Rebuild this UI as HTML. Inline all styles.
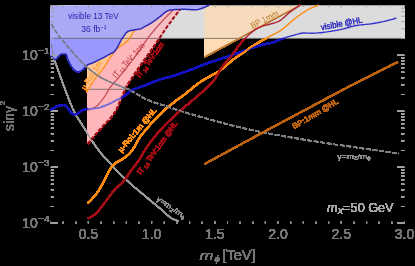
<!DOCTYPE html>
<html><head><meta charset="utf-8"><title>plot</title>
<style>html,body{margin:0;padding:0;background:#000;}body{width:415px;height:266px;position:relative;overflow:hidden;font-family:"Liberation Sans",sans-serif;}</style>
</head><body>
<svg width="415" height="266" viewBox="0 0 415 266" style="position:absolute;left:0;top:0">
<defs>
<clipPath id="cBand"><rect x="50.9" y="5.9" width="353.3" height="32.5"/></clipPath>
<clipPath id="cBelow"><rect x="0" y="38.4" width="415" height="227.6"/></clipPath>
<clipPath id="cPlot"><rect x="50.9" y="5.9" width="353.3" height="217.6"/></clipPath>
<clipPath id="cPink"><path d="M87.5 64.9 L88.9 64.3 L90.3 63.7 L91.8 63.2 L93.2 62.7 L94.6 62.0 L95.9 61.4 L97.3 60.7 L98.6 60.0 L100.0 59.3 L101.3 58.6 L102.7 58.0 L104.0 57.3 L105.3 56.6 L106.7 55.9 L108.0 55.1 L109.4 54.4 L110.7 53.7 L112.1 53.0 L113.4 52.3 L114.5 51.4 L115.5 50.2 L116.4 48.9 L117.2 47.7 L117.9 46.3 L118.6 45.0 L119.3 43.7 L120.0 42.3 L120.7 41.0 L121.4 39.6 L122.2 38.3 L123.1 37.1 L123.9 35.9 L124.8 34.6 L125.7 33.4 L126.7 32.3 L127.9 31.3 L129.3 30.9 L130.8 30.6 L132.3 30.3 L133.8 30.1 L135.3 29.8 L136.8 29.6 L138.3 29.3 L139.8 29.1 L141.2 28.6 L142.6 27.9 L143.9 27.1 L145.2 26.4 L146.6 25.7 L147.9 25.0 L149.2 24.2 L150.5 23.5 L151.8 22.7 L153.1 21.8 L154.3 20.9 L155.5 20.1 L156.7 19.2 L157.9 18.2 L159.1 17.3 L160.3 16.4 L161.5 15.4 L162.6 14.4 L163.8 13.4 L165.0 12.5 L166.3 11.7 L167.6 10.9 L169.0 10.3 L170.4 10.0 L171.9 9.9 L173.4 9.7 L175.0 9.6 L176.5 9.6 L178.0 9.5 L179.5 9.4 L180.0 9.5 L179.1 10.7 L178.1 11.9 L177.2 13.1 L176.3 14.3 L175.4 15.5 L174.5 16.7 L173.6 17.9 L172.6 19.2 L171.7 20.4 L170.9 21.6 L170.0 22.8 L169.1 24.1 L168.2 25.3 L167.3 26.5 L166.4 27.8 L165.6 29.0 L164.7 30.3 L163.9 31.6 L163.1 32.8 L162.2 34.1 L161.4 35.3 L160.5 36.6 L159.6 37.8 L158.8 39.1 L157.9 40.3 L157.0 41.6 L156.2 42.8 L155.3 44.1 L154.4 45.3 L153.6 46.6 L152.7 47.8 L151.8 49.0 L150.9 50.3 L150.1 51.5 L149.2 52.8 L148.3 54.0 L147.4 55.2 L146.6 56.5 L145.7 57.7 L144.8 59.0 L143.9 60.2 L143.1 61.4 L142.2 62.7 L141.3 63.9 L140.4 65.2 L139.6 66.4 L138.7 67.7 L137.8 68.9 L137.0 70.2 L136.1 71.4 L135.3 72.7 L134.4 73.9 L133.6 75.2 L132.8 76.5 L131.9 77.7 L131.1 79.0 L130.2 80.2 L129.4 81.5 L128.5 82.8 L127.7 84.1 L127.0 85.4 L126.2 86.7 L125.6 88.1 L125.0 89.4 L124.4 90.9 L123.8 92.2 L123.2 93.6 L122.6 95.0 L122.0 96.4 L121.4 97.8 L120.8 99.2 L120.2 100.6 L119.6 102.0 L119.0 103.4 L118.4 104.8 L117.8 106.2 L117.2 107.6 L116.6 109.0 L115.9 110.3 L115.1 111.6 L114.2 112.9 L113.4 114.1 L112.5 115.4 L111.6 116.6 L110.6 117.7 L109.6 118.9 L108.6 120.0 L107.6 121.1 L106.5 122.2 L105.5 123.3 L104.4 124.4 L103.4 125.5 L102.3 126.6 L101.3 127.8 L100.3 128.9 L99.3 130.0 L98.3 131.2 L97.3 132.3 L96.3 133.5 L95.3 134.6 L94.3 135.8 L93.4 136.9 L92.4 138.1 L91.4 139.3 L90.5 140.5 L89.5 141.6 L88.5 142.8 L87.6 144.0Z"/></clipPath>
<clipPath id="cOut"><path clip-rule="evenodd" d="M0 38.4H415V266H0Z M87.5 64.9 L88.9 64.3 L90.3 63.7 L91.8 63.2 L93.2 62.7 L94.6 62.0 L95.9 61.4 L97.3 60.7 L98.6 60.0 L100.0 59.3 L101.3 58.6 L102.7 58.0 L104.0 57.3 L105.3 56.6 L106.7 55.9 L108.0 55.1 L109.4 54.4 L110.7 53.7 L112.1 53.0 L113.4 52.3 L114.5 51.4 L115.5 50.2 L116.4 48.9 L117.2 47.7 L117.9 46.3 L118.6 45.0 L119.3 43.7 L120.0 42.3 L120.7 41.0 L121.4 39.6 L122.2 38.3 L123.1 37.1 L123.9 35.9 L124.8 34.6 L125.7 33.4 L126.7 32.3 L127.9 31.3 L129.3 30.9 L130.8 30.6 L132.3 30.3 L133.8 30.1 L135.3 29.8 L136.8 29.6 L138.3 29.3 L139.8 29.1 L141.2 28.6 L142.6 27.9 L143.9 27.1 L145.2 26.4 L146.6 25.7 L147.9 25.0 L149.2 24.2 L150.5 23.5 L151.8 22.7 L153.1 21.8 L154.3 20.9 L155.5 20.1 L156.7 19.2 L157.9 18.2 L159.1 17.3 L160.3 16.4 L161.5 15.4 L162.6 14.4 L163.8 13.4 L165.0 12.5 L166.3 11.7 L167.6 10.9 L169.0 10.3 L170.4 10.0 L171.9 9.9 L173.4 9.7 L175.0 9.6 L176.5 9.6 L178.0 9.5 L179.5 9.4 L180.0 9.5 L179.1 10.7 L178.1 11.9 L177.2 13.1 L176.3 14.3 L175.4 15.5 L174.5 16.7 L173.6 17.9 L172.6 19.2 L171.7 20.4 L170.9 21.6 L170.0 22.8 L169.1 24.1 L168.2 25.3 L167.3 26.5 L166.4 27.8 L165.6 29.0 L164.7 30.3 L163.9 31.6 L163.1 32.8 L162.2 34.1 L161.4 35.3 L160.5 36.6 L159.6 37.8 L158.8 39.1 L157.9 40.3 L157.0 41.6 L156.2 42.8 L155.3 44.1 L154.4 45.3 L153.6 46.6 L152.7 47.8 L151.8 49.0 L150.9 50.3 L150.1 51.5 L149.2 52.8 L148.3 54.0 L147.4 55.2 L146.6 56.5 L145.7 57.7 L144.8 59.0 L143.9 60.2 L143.1 61.4 L142.2 62.7 L141.3 63.9 L140.4 65.2 L139.6 66.4 L138.7 67.7 L137.8 68.9 L137.0 70.2 L136.1 71.4 L135.3 72.7 L134.4 73.9 L133.6 75.2 L132.8 76.5 L131.9 77.7 L131.1 79.0 L130.2 80.2 L129.4 81.5 L128.5 82.8 L127.7 84.1 L127.0 85.4 L126.2 86.7 L125.6 88.1 L125.0 89.4 L124.4 90.9 L123.8 92.2 L123.2 93.6 L122.6 95.0 L122.0 96.4 L121.4 97.8 L120.8 99.2 L120.2 100.6 L119.6 102.0 L119.0 103.4 L118.4 104.8 L117.8 106.2 L117.2 107.6 L116.6 109.0 L115.9 110.3 L115.1 111.6 L114.2 112.9 L113.4 114.1 L112.5 115.4 L111.6 116.6 L110.6 117.7 L109.6 118.9 L108.6 120.0 L107.6 121.1 L106.5 122.2 L105.5 123.3 L104.4 124.4 L103.4 125.5 L102.3 126.6 L101.3 127.8 L100.3 128.9 L99.3 130.0 L98.3 131.2 L97.3 132.3 L96.3 133.5 L95.3 134.6 L94.3 135.8 L93.4 136.9 L92.4 138.1 L91.4 139.3 L90.5 140.5 L89.5 141.6 L88.5 142.8 L87.6 144.0Z"/></clipPath>
<clipPath id="cFills"><path d="M50.9 5.9 L50.5 55.6 L51.7 56.5 L52.9 57.5 L54.0 58.7 L55.1 59.6 L56.2 59.0 L57.2 57.7 L58.3 56.5 L59.5 55.3 L60.7 54.3 L62.1 54.0 L63.7 54.0 L65.3 54.0 L66.2 54.2 L66.8 55.5 L67.3 57.2 L67.8 59.0 L68.4 60.4 L69.1 61.8 L69.7 63.2 L70.4 64.5 L71.2 65.8 L72.0 67.1 L72.9 68.3 L73.9 69.5 L75.1 70.5 L76.4 71.2 L77.9 71.7 L79.3 71.5 L80.7 70.9 L82.1 70.1 L83.3 69.2 L84.3 68.1 L85.3 66.9 L86.4 65.8 L87.5 64.9 L88.9 64.3 L90.3 63.7 L91.8 63.2 L93.2 62.7 L94.6 62.0 L95.9 61.4 L97.3 60.7 L98.6 60.0 L100.0 59.3 L101.3 58.6 L102.7 58.0 L104.0 57.3 L105.3 56.6 L106.7 55.9 L108.0 55.1 L109.4 54.4 L110.7 53.7 L112.1 53.0 L113.4 52.3 L114.5 51.4 L115.5 50.2 L116.4 48.9 L117.2 47.7 L117.9 46.3 L118.6 45.0 L119.3 43.7 L120.0 42.3 L120.7 41.0 L121.4 39.6 L122.2 38.3 L123.1 37.1 L123.9 35.9 L124.8 34.6 L125.7 33.4 L126.7 32.3 L127.9 31.3 L129.3 30.9 L130.8 30.6 L132.3 30.3 L133.8 30.1 L135.3 29.8 L136.8 29.6 L138.3 29.3 L139.8 29.1 L141.2 28.6 L142.6 27.9 L143.9 27.1 L145.2 26.4 L146.6 25.7 L147.9 25.0 L149.2 24.2 L150.5 23.5 L151.8 22.7 L153.1 21.8 L154.3 20.9 L155.5 20.1 L156.7 19.2 L157.9 18.2 L159.1 17.3 L160.3 16.4 L161.5 15.4 L162.6 14.4 L163.8 13.4 L165.0 12.5 L166.3 11.7 L167.6 10.9 L169.0 10.3 L170.4 10.0 L171.9 9.9 L173.4 9.7 L175.0 9.6 L176.5 9.6 L178.0 9.5 L179.5 9.4 L181.0 9.4 L182.5 9.3 L184.0 9.3 L185.6 9.3 L187.1 9.4 L188.6 9.5 L190.1 9.6 L191.6 9.7 L193.1 9.8 L194.6 9.8 L196.1 9.7 L197.6 9.5 L199.1 9.2 L200.6 8.8 L202.0 8.3 L203.4 7.7 L204.8 7.2 L206.2 6.6 L207.6 6.0 L209.0 5.4Z M87.5 64.9 L88.9 64.3 L90.3 63.7 L91.8 63.2 L93.2 62.7 L94.6 62.0 L95.9 61.4 L97.3 60.7 L98.6 60.0 L100.0 59.3 L101.3 58.6 L102.7 58.0 L104.0 57.3 L105.3 56.6 L106.7 55.9 L108.0 55.1 L109.4 54.4 L110.7 53.7 L112.1 53.0 L113.4 52.3 L114.5 51.4 L115.5 50.2 L116.4 48.9 L117.2 47.7 L117.9 46.3 L118.6 45.0 L119.3 43.7 L120.0 42.3 L120.7 41.0 L121.4 39.6 L122.2 38.3 L123.1 37.1 L123.9 35.9 L124.8 34.6 L125.7 33.4 L126.7 32.3 L127.9 31.3 L129.3 30.9 L130.8 30.6 L132.3 30.3 L133.8 30.1 L135.3 29.8 L136.8 29.6 L138.3 29.3 L139.8 29.1 L141.2 28.6 L142.6 27.9 L143.9 27.1 L145.2 26.4 L146.6 25.7 L147.9 25.0 L149.2 24.2 L150.5 23.5 L151.8 22.7 L153.1 21.8 L154.3 20.9 L155.5 20.1 L156.7 19.2 L157.9 18.2 L159.1 17.3 L160.3 16.4 L161.5 15.4 L162.6 14.4 L163.8 13.4 L165.0 12.5 L166.3 11.7 L167.6 10.9 L169.0 10.3 L170.4 10.0 L171.9 9.9 L173.4 9.7 L175.0 9.6 L176.5 9.6 L178.0 9.5 L179.5 9.4 L180.0 9.5 L179.1 10.7 L178.1 11.9 L177.2 13.1 L176.3 14.3 L175.4 15.5 L174.5 16.7 L173.6 17.9 L172.6 19.2 L171.7 20.4 L170.9 21.6 L170.0 22.8 L169.1 24.1 L168.2 25.3 L167.3 26.5 L166.4 27.8 L165.6 29.0 L164.7 30.3 L163.9 31.6 L163.1 32.8 L162.2 34.1 L161.4 35.3 L160.5 36.6 L159.6 37.8 L158.8 39.1 L157.9 40.3 L157.0 41.6 L156.2 42.8 L155.3 44.1 L154.4 45.3 L153.6 46.6 L152.7 47.8 L151.8 49.0 L150.9 50.3 L150.1 51.5 L149.2 52.8 L148.3 54.0 L147.4 55.2 L146.6 56.5 L145.7 57.7 L144.8 59.0 L143.9 60.2 L143.1 61.4 L142.2 62.7 L141.3 63.9 L140.4 65.2 L139.6 66.4 L138.7 67.7 L137.8 68.9 L137.0 70.2 L136.1 71.4 L135.3 72.7 L134.4 73.9 L133.6 75.2 L132.8 76.5 L131.9 77.7 L131.1 79.0 L130.2 80.2 L129.4 81.5 L128.5 82.8 L127.7 84.1 L127.0 85.4 L126.2 86.7 L125.6 88.1 L125.0 89.4 L124.4 90.9 L123.8 92.2 L123.2 93.6 L122.6 95.0 L122.0 96.4 L121.4 97.8 L120.8 99.2 L120.2 100.6 L119.6 102.0 L119.0 103.4 L118.4 104.8 L117.8 106.2 L117.2 107.6 L116.6 109.0 L115.9 110.3 L115.1 111.6 L114.2 112.9 L113.4 114.1 L112.5 115.4 L111.6 116.6 L110.6 117.7 L109.6 118.9 L108.6 120.0 L107.6 121.1 L106.5 122.2 L105.5 123.3 L104.4 124.4 L103.4 125.5 L102.3 126.6 L101.3 127.8 L100.3 128.9 L99.3 130.0 L98.3 131.2 L97.3 132.3 L96.3 133.5 L95.3 134.6 L94.3 135.8 L93.4 136.9 L92.4 138.1 L91.4 139.3 L90.5 140.5 L89.5 141.6 L88.5 142.8 L87.6 144.0Z"/></clipPath>
<filter id="hard" x="0" y="0" width="415" height="266" filterUnits="userSpaceOnUse" color-interpolation-filters="sRGB"><feComponentTransfer><feFuncA type="linear" slope="7" intercept="0"/></feComponentTransfer></filter>
</defs>
<rect width="415" height="266" fill="#000"/>
<g filter="url(#hard)">
<rect x="50.9" y="5.9" width="353.3" height="32.5" fill="#dcdcdc"/>
<path d="M50.9 5.9 L50.5 55.6 L51.7 56.5 L52.9 57.5 L54.0 58.7 L55.1 59.6 L56.2 59.0 L57.2 57.7 L58.3 56.5 L59.5 55.3 L60.7 54.3 L62.1 54.0 L63.7 54.0 L65.3 54.0 L66.2 54.2 L66.8 55.5 L67.3 57.2 L67.8 59.0 L68.4 60.4 L69.1 61.8 L69.7 63.2 L70.4 64.5 L71.2 65.8 L72.0 67.1 L72.9 68.3 L73.9 69.5 L75.1 70.5 L76.4 71.2 L77.9 71.7 L79.3 71.5 L80.7 70.9 L82.1 70.1 L83.3 69.2 L84.3 68.1 L85.3 66.9 L86.4 65.8 L87.5 64.9 L88.9 64.3 L90.3 63.7 L91.8 63.2 L93.2 62.7 L94.6 62.0 L95.9 61.4 L97.3 60.7 L98.6 60.0 L100.0 59.3 L101.3 58.6 L102.7 58.0 L104.0 57.3 L105.3 56.6 L106.7 55.9 L108.0 55.1 L109.4 54.4 L110.7 53.7 L112.1 53.0 L113.4 52.3 L114.5 51.4 L115.5 50.2 L116.4 48.9 L117.2 47.7 L117.9 46.3 L118.6 45.0 L119.3 43.7 L120.0 42.3 L120.7 41.0 L121.4 39.6 L122.2 38.3 L123.1 37.1 L123.9 35.9 L124.8 34.6 L125.7 33.4 L126.7 32.3 L127.9 31.3 L129.3 30.9 L130.8 30.6 L132.3 30.3 L133.8 30.1 L135.3 29.8 L136.8 29.6 L138.3 29.3 L139.8 29.1 L141.2 28.6 L142.6 27.9 L143.9 27.1 L145.2 26.4 L146.6 25.7 L147.9 25.0 L149.2 24.2 L150.5 23.5 L151.8 22.7 L153.1 21.8 L154.3 20.9 L155.5 20.1 L156.7 19.2 L157.9 18.2 L159.1 17.3 L160.3 16.4 L161.5 15.4 L162.6 14.4 L163.8 13.4 L165.0 12.5 L166.3 11.7 L167.6 10.9 L169.0 10.3 L170.4 10.0 L171.9 9.9 L173.4 9.7 L175.0 9.6 L176.5 9.6 L178.0 9.5 L179.5 9.4 L181.0 9.4 L182.5 9.3 L184.0 9.3 L185.6 9.3 L187.1 9.4 L188.6 9.5 L190.1 9.6 L191.6 9.7 L193.1 9.8 L194.6 9.8 L196.1 9.7 L197.6 9.5 L199.1 9.2 L200.6 8.8 L202.0 8.3 L203.4 7.7 L204.8 7.2 L206.2 6.6 L207.6 6.0 L209.0 5.4Z" fill="#9898ff"/>
<path d="M87.5 64.9 L88.9 64.3 L90.3 63.7 L91.8 63.2 L93.2 62.7 L94.6 62.0 L95.9 61.4 L97.3 60.7 L98.6 60.0 L100.0 59.3 L101.3 58.6 L102.7 58.0 L104.0 57.3 L105.3 56.6 L106.7 55.9 L108.0 55.1 L109.4 54.4 L110.7 53.7 L112.1 53.0 L113.4 52.3 L114.5 51.4 L115.5 50.2 L116.4 48.9 L117.2 47.7 L117.9 46.3 L118.6 45.0 L119.3 43.7 L120.0 42.3 L120.7 41.0 L121.4 39.6 L122.2 38.3 L123.1 37.1 L123.9 35.9 L124.8 34.6 L125.7 33.4 L126.7 32.3 L127.9 31.3 L129.3 30.9 L130.8 30.6 L132.3 30.3 L133.8 30.1 L135.3 29.8 L136.8 29.6 L138.3 29.3 L139.8 29.1 L141.2 28.6 L142.6 27.9 L143.9 27.1 L145.2 26.4 L146.6 25.7 L147.9 25.0 L149.2 24.2 L150.5 23.5 L151.8 22.7 L153.1 21.8 L154.3 20.9 L155.5 20.1 L156.7 19.2 L157.9 18.2 L159.1 17.3 L160.3 16.4 L161.5 15.4 L162.6 14.4 L163.8 13.4 L165.0 12.5 L166.3 11.7 L167.6 10.9 L169.0 10.3 L170.4 10.0 L171.9 9.9 L173.4 9.7 L175.0 9.6 L176.5 9.6 L178.0 9.5 L179.5 9.4 L180.0 9.5 L179.1 10.7 L178.1 11.9 L177.2 13.1 L176.3 14.3 L175.4 15.5 L174.5 16.7 L173.6 17.9 L172.6 19.2 L171.7 20.4 L170.9 21.6 L170.0 22.8 L169.1 24.1 L168.2 25.3 L167.3 26.5 L166.4 27.8 L165.6 29.0 L164.7 30.3 L163.9 31.6 L163.1 32.8 L162.2 34.1 L161.4 35.3 L160.5 36.6 L159.6 37.8 L158.8 39.1 L157.9 40.3 L157.0 41.6 L156.2 42.8 L155.3 44.1 L154.4 45.3 L153.6 46.6 L152.7 47.8 L151.8 49.0 L150.9 50.3 L150.1 51.5 L149.2 52.8 L148.3 54.0 L147.4 55.2 L146.6 56.5 L145.7 57.7 L144.8 59.0 L143.9 60.2 L143.1 61.4 L142.2 62.7 L141.3 63.9 L140.4 65.2 L139.6 66.4 L138.7 67.7 L137.8 68.9 L137.0 70.2 L136.1 71.4 L135.3 72.7 L134.4 73.9 L133.6 75.2 L132.8 76.5 L131.9 77.7 L131.1 79.0 L130.2 80.2 L129.4 81.5 L128.5 82.8 L127.7 84.1 L127.0 85.4 L126.2 86.7 L125.6 88.1 L125.0 89.4 L124.4 90.9 L123.8 92.2 L123.2 93.6 L122.6 95.0 L122.0 96.4 L121.4 97.8 L120.8 99.2 L120.2 100.6 L119.6 102.0 L119.0 103.4 L118.4 104.8 L117.8 106.2 L117.2 107.6 L116.6 109.0 L115.9 110.3 L115.1 111.6 L114.2 112.9 L113.4 114.1 L112.5 115.4 L111.6 116.6 L110.6 117.7 L109.6 118.9 L108.6 120.0 L107.6 121.1 L106.5 122.2 L105.5 123.3 L104.4 124.4 L103.4 125.5 L102.3 126.6 L101.3 127.8 L100.3 128.9 L99.3 130.0 L98.3 131.2 L97.3 132.3 L96.3 133.5 L95.3 134.6 L94.3 135.8 L93.4 136.9 L92.4 138.1 L91.4 139.3 L90.5 140.5 L89.5 141.6 L88.5 142.8 L87.6 144.0Z" fill="#ffb6ba"/>
<path d="M87.5 64.9 L88.9 64.3 L90.3 63.7 L91.8 63.2 L93.2 62.7 L94.6 62.0 L95.9 61.4 L97.3 60.7 L98.6 60.0 L100.0 59.3 L101.3 58.6 L102.7 58.0 L104.0 57.3 L105.3 56.6 L106.7 55.9 L108.0 55.1 L109.4 54.4 L110.7 53.7 L112.1 53.0 L113.4 52.3 L114.5 51.4 L115.5 50.2 L116.4 48.9 L117.2 47.7 L117.9 46.3 L118.6 45.0 L119.3 43.7 L120.0 42.3 L120.7 41.0 L121.4 39.6 L122.2 38.3 L123.1 37.1 L123.9 35.9 L124.8 34.6 L125.7 33.4 L126.7 32.3 L127.9 31.3 L129.3 30.9 L130.8 30.6 L132.3 30.3 L133.8 30.1 L135.3 29.8 L135.4 29.8 L134.2 30.8 L133.3 32.0 L132.6 33.3 L131.8 34.7 L131.0 36.1 L130.3 37.4 L129.4 38.7 L128.5 40.0 L127.5 41.1 L126.3 42.0 L125.1 42.9 L123.8 43.8 L122.5 44.7 L121.2 45.5 L119.9 46.4 L118.7 47.3 L117.6 48.3 L116.5 49.4 L115.5 50.6 L114.6 51.8 L113.6 53.1 L112.7 54.3 L111.8 55.5 L110.9 56.8 L110.0 58.0 L109.1 59.3 L108.3 60.6 L107.5 61.9 L106.7 63.2 L105.9 64.5 L105.0 65.8 L104.2 67.1 L103.3 68.4 L102.4 69.6 L101.4 70.8 L100.4 72.0 L99.4 73.1 L98.4 74.3 L97.5 75.5 L96.6 76.8 L95.6 78.0 L94.8 79.3 L93.9 80.5 L93.0 81.8 L92.1 83.1 L91.3 84.4 L90.4 85.6 L89.6 86.9 L88.8 88.2 L88.0 89.6 L87.2 90.9 L86.4 92.2Z" fill="#ffc494"/>
<path d="M204.5 5.9 L300.0 5.9 L300.0 5.4 L270.0 21.5 L240.7 37.6 L204.5 57.0Z" fill="#ffdab2"/>
<path clip-path="url(#cBand)" d="M50.9 5.9 L50.5 55.6 L51.7 56.5 L52.9 57.5 L54.0 58.7 L55.1 59.6 L56.2 59.0 L57.2 57.7 L58.3 56.5 L59.5 55.3 L60.7 54.3 L62.1 54.0 L63.7 54.0 L65.3 54.0 L66.2 54.2 L66.8 55.5 L67.3 57.2 L67.8 59.0 L68.4 60.4 L69.1 61.8 L69.7 63.2 L70.4 64.5 L71.2 65.8 L72.0 67.1 L72.9 68.3 L73.9 69.5 L75.1 70.5 L76.4 71.2 L77.9 71.7 L79.3 71.5 L80.7 70.9 L82.1 70.1 L83.3 69.2 L84.3 68.1 L85.3 66.9 L86.4 65.8 L87.5 64.9 L88.9 64.3 L90.3 63.7 L91.8 63.2 L93.2 62.7 L94.6 62.0 L95.9 61.4 L97.3 60.7 L98.6 60.0 L100.0 59.3 L101.3 58.6 L102.7 58.0 L104.0 57.3 L105.3 56.6 L106.7 55.9 L108.0 55.1 L109.4 54.4 L110.7 53.7 L112.1 53.0 L113.4 52.3 L114.5 51.4 L115.5 50.2 L116.4 48.9 L117.2 47.7 L117.9 46.3 L118.6 45.0 L119.3 43.7 L120.0 42.3 L120.7 41.0 L121.4 39.6 L122.2 38.3 L123.1 37.1 L123.9 35.9 L124.8 34.6 L125.7 33.4 L126.7 32.3 L127.9 31.3 L129.3 30.9 L130.8 30.6 L132.3 30.3 L133.8 30.1 L135.3 29.8 L136.8 29.6 L138.3 29.3 L139.8 29.1 L141.2 28.6 L142.6 27.9 L143.9 27.1 L145.2 26.4 L146.6 25.7 L147.9 25.0 L149.2 24.2 L150.5 23.5 L151.8 22.7 L153.1 21.8 L154.3 20.9 L155.5 20.1 L156.7 19.2 L157.9 18.2 L159.1 17.3 L160.3 16.4 L161.5 15.4 L162.6 14.4 L163.8 13.4 L165.0 12.5 L166.3 11.7 L167.6 10.9 L169.0 10.3 L170.4 10.0 L171.9 9.9 L173.4 9.7 L175.0 9.6 L176.5 9.6 L178.0 9.5 L179.5 9.4 L181.0 9.4 L182.5 9.3 L184.0 9.3 L185.6 9.3 L187.1 9.4 L188.6 9.5 L190.1 9.6 L191.6 9.7 L193.1 9.8 L194.6 9.8 L196.1 9.7 L197.6 9.5 L199.1 9.2 L200.6 8.8 L202.0 8.3 L203.4 7.7 L204.8 7.2 L206.2 6.6 L207.6 6.0 L209.0 5.4Z M87.5 64.9 L88.9 64.3 L90.3 63.7 L91.8 63.2 L93.2 62.7 L94.6 62.0 L95.9 61.4 L97.3 60.7 L98.6 60.0 L100.0 59.3 L101.3 58.6 L102.7 58.0 L104.0 57.3 L105.3 56.6 L106.7 55.9 L108.0 55.1 L109.4 54.4 L110.7 53.7 L112.1 53.0 L113.4 52.3 L114.5 51.4 L115.5 50.2 L116.4 48.9 L117.2 47.7 L117.9 46.3 L118.6 45.0 L119.3 43.7 L120.0 42.3 L120.7 41.0 L121.4 39.6 L122.2 38.3 L123.1 37.1 L123.9 35.9 L124.8 34.6 L125.7 33.4 L126.7 32.3 L127.9 31.3 L129.3 30.9 L130.8 30.6 L132.3 30.3 L133.8 30.1 L135.3 29.8 L136.8 29.6 L138.3 29.3 L139.8 29.1 L141.2 28.6 L142.6 27.9 L143.9 27.1 L145.2 26.4 L146.6 25.7 L147.9 25.0 L149.2 24.2 L150.5 23.5 L151.8 22.7 L153.1 21.8 L154.3 20.9 L155.5 20.1 L156.7 19.2 L157.9 18.2 L159.1 17.3 L160.3 16.4 L161.5 15.4 L162.6 14.4 L163.8 13.4 L165.0 12.5 L166.3 11.7 L167.6 10.9 L169.0 10.3 L170.4 10.0 L171.9 9.9 L173.4 9.7 L175.0 9.6 L176.5 9.6 L178.0 9.5 L179.5 9.4 L180.0 9.5 L179.1 10.7 L178.1 11.9 L177.2 13.1 L176.3 14.3 L175.4 15.5 L174.5 16.7 L173.6 17.9 L172.6 19.2 L171.7 20.4 L170.9 21.6 L170.0 22.8 L169.1 24.1 L168.2 25.3 L167.3 26.5 L166.4 27.8 L165.6 29.0 L164.7 30.3 L163.9 31.6 L163.1 32.8 L162.2 34.1 L161.4 35.3 L160.5 36.6 L159.6 37.8 L158.8 39.1 L157.9 40.3 L157.0 41.6 L156.2 42.8 L155.3 44.1 L154.4 45.3 L153.6 46.6 L152.7 47.8 L151.8 49.0 L150.9 50.3 L150.1 51.5 L149.2 52.8 L148.3 54.0 L147.4 55.2 L146.6 56.5 L145.7 57.7 L144.8 59.0 L143.9 60.2 L143.1 61.4 L142.2 62.7 L141.3 63.9 L140.4 65.2 L139.6 66.4 L138.7 67.7 L137.8 68.9 L137.0 70.2 L136.1 71.4 L135.3 72.7 L134.4 73.9 L133.6 75.2 L132.8 76.5 L131.9 77.7 L131.1 79.0 L130.2 80.2 L129.4 81.5 L128.5 82.8 L127.7 84.1 L127.0 85.4 L126.2 86.7 L125.6 88.1 L125.0 89.4 L124.4 90.9 L123.8 92.2 L123.2 93.6 L122.6 95.0 L122.0 96.4 L121.4 97.8 L120.8 99.2 L120.2 100.6 L119.6 102.0 L119.0 103.4 L118.4 104.8 L117.8 106.2 L117.2 107.6 L116.6 109.0 L115.9 110.3 L115.1 111.6 L114.2 112.9 L113.4 114.1 L112.5 115.4 L111.6 116.6 L110.6 117.7 L109.6 118.9 L108.6 120.0 L107.6 121.1 L106.5 122.2 L105.5 123.3 L104.4 124.4 L103.4 125.5 L102.3 126.6 L101.3 127.8 L100.3 128.9 L99.3 130.0 L98.3 131.2 L97.3 132.3 L96.3 133.5 L95.3 134.6 L94.3 135.8 L93.4 136.9 L92.4 138.1 L91.4 139.3 L90.5 140.5 L89.5 141.6 L88.5 142.8 L87.6 144.0Z M204.5 5.9 L300.0 5.9 L300.0 5.4 L270.0 21.5 L240.7 37.6 L204.5 57.0Z" fill="#dcdcdc" fill-opacity="0.25"/>
<path d="M50.9 38.4H404.2" stroke="#555" stroke-width="0.7" fill="none"/>
<path d="M87 89.3H130" stroke="#555" stroke-width="0.7" fill="none"/>
<path d="M53.2 55.5 L53.6 57.0 L54.0 58.4 L54.5 59.9 L54.9 61.3 L55.4 62.7 L55.9 64.2 L56.4 65.6 L56.9 67.0 L57.4 68.4 L58.0 69.9 L58.5 71.3 L59.0 72.7 L59.5 74.1 L60.0 75.5 L60.5 77.0 L61.0 78.4 L61.6 79.8 L62.1 81.2 L62.6 82.7 L63.1 84.1 L63.6 85.5 L64.1 86.9 L64.7 88.3 L65.2 89.8 L65.8 91.2 L66.3 92.6 L66.8 94.0 L67.4 95.4 L67.9 96.8 L68.5 98.2 L69.0 99.7 L69.6 101.1 L70.2 102.5 L70.7 103.9 L71.3 105.3 L71.9 106.7 L72.5 108.0 L73.2 109.4 L73.8 110.8 L74.5 112.1 L75.1 113.5 L75.9 114.8 L76.6 116.1 L77.4 117.4 L78.2 118.7 L79.0 120.0 L79.8 121.2 L80.6 122.5 L81.5 123.8 L82.3 125.0 L83.1 126.3 L83.9 127.6 L84.7 128.9 L85.5 130.2 L86.3 131.5 L87.0 132.8 L87.8 134.1 L88.6 135.4 L89.4 136.7 L90.2 138.0 L91.0 139.2 L91.8 140.5 L92.7 141.8 L93.5 143.0 L94.4 144.3 L95.2 145.5 L96.1 146.8 L97.0 148.0 L97.9 149.2 L98.8 150.5 L99.7 151.6 L100.6 152.8 L101.6 154.0 L102.6 155.1 L103.6 156.3 L104.6 157.3 L105.7 158.4 L106.8 159.5 L107.9 160.6 L108.9 161.7 L109.9 162.8 L110.9 164.0 L111.8 165.1 L112.8 166.3 L113.8 167.4 L114.8 168.6 L115.8 169.7 L116.8 170.8 L117.8 171.9 L118.9 173.0 L120.0 174.1 L121.1 175.1 L122.2 176.1 L123.3 177.2 L124.4 178.2 L125.5 179.2 L126.7 180.2 L127.8 181.2 L128.9 182.2 L130.0 183.2 L131.2 184.2 L132.3 185.2 L133.5 186.2 L134.6 187.2 L135.8 188.2 L136.9 189.2 L138.1 190.1 L139.2 191.1 L140.4 192.1 L141.5 193.1 L142.7 194.0 L143.8 195.0 L145.0 196.0 L146.2 197.0 L147.3 197.9 L148.5 198.9 L149.6 199.9 L150.8 200.9 L152.0 201.8 L153.1 202.8 L154.3 203.8 L155.5 204.7 L156.6 205.7 L157.8 206.6 L159.0 207.6 L160.1 208.5 L161.3 209.5 L162.5 210.5 L163.6 211.5 L164.8 212.6 L165.9 213.7 L167.1 214.7 L168.2 215.7 L169.4 216.7 L170.6 217.6 L171.8 218.4 L173.1 219.1 L174.4 219.7 L175.8 220.2 L177.3 220.6 L178.8 221.0" stroke="#9a9a9a" stroke-width="1.4" fill="none"/>
<path d="M51.2 44.2L53.2 55.5" stroke="#85858e" stroke-width="1.3" stroke-dasharray="4.4 1.4" fill="none"/>
<path d="M86.4 92.2 L87.2 90.9 L88.0 89.6 L88.8 88.2 L89.6 86.9 L90.4 85.6 L91.3 84.4 L92.1 83.1 L93.0 81.8 L93.9 80.5 L94.8 79.3 L95.6 78.0 L96.6 76.8 L97.5 75.5 L98.4 74.3 L99.4 73.1 L100.4 72.0 L101.4 70.8 L102.4 69.6 L103.3 68.4 L104.2 67.1 L105.0 65.8 L105.9 64.5 L106.7 63.2 L107.5 61.9 L108.3 60.6 L109.1 59.3 L110.0 58.0 L110.9 56.8 L111.8 55.5 L112.7 54.3 L113.6 53.1 L114.6 51.8 L115.5 50.6 L116.5 49.4 L117.6 48.3 L118.7 47.3 L119.9 46.4 L121.2 45.5 L122.5 44.7 L123.8 43.8 L125.1 42.9 L126.3 42.0 L127.5 41.1 L128.5 40.0 L129.4 38.7 L130.3 37.4 L131.0 36.1 L131.8 34.7 L132.6 33.3 L133.3 32.0 L134.2 30.8 L135.4 29.8" stroke="#ff8c10" stroke-width="1.2" fill="none"/>
<path d="M87.5 110.2 L89.1 109.8 L90.6 109.3 L92.0 108.7 L93.4 108.0 L94.7 107.3 L95.9 106.5 L97.1 105.7 L98.2 104.7 L99.3 103.6 L100.3 102.4 L101.3 101.1 L102.2 99.9 L103.1 98.6 L104.0 97.4 L104.9 96.1 L105.7 94.8 L106.5 93.5 L107.2 92.1 L108.0 90.8 L108.8 89.5 L109.6 88.2 L110.5 87.0 L111.4 85.8 L112.4 84.6 L113.4 83.4 L114.4 82.3 L115.5 81.1 L116.5 80.0 L117.5 78.8 L118.5 77.7 L119.4 76.5 L120.4 75.3 L121.4 74.1 L122.4 72.9 L123.3 71.7 L124.3 70.6 L125.2 69.4 L126.2 68.2 L127.1 67.0 L128.1 65.7 L129.0 64.5 L129.9 63.3 L130.9 62.1 L131.8 60.9 L132.7 59.7 L133.6 58.5 L134.6 57.2 L135.5 56.0 L136.3 54.7 L137.2 53.5 L138.1 52.2 L139.0 51.0 L139.9 49.7 L140.7 48.5 L141.6 47.2 L142.5 45.9 L143.3 44.7 L144.2 43.4 L145.0 42.1 L145.9 40.9 L146.8 39.6 L147.7 38.4 L148.6 37.1 L149.5 35.9 L150.5 34.7 L151.4 33.5 L152.4 32.4 L153.4 31.2 L154.4 30.0 L155.3 28.8 L156.4 27.7 L157.4 26.5 L158.4 25.4 L159.4 24.2 L160.4 23.1 L161.5 22.0 L162.5 20.9 L163.5 19.7 L164.6 18.6 L165.7 17.5 L166.7 16.4 L167.8 15.3 L168.9 14.3 L170.0 13.2 L171.1 12.1 L172.2 11.1 L173.3 10.0" stroke="#c4505a" stroke-width="1.35" fill="none"/>
<path d="M50.5 55.6 L51.7 56.5 L52.9 57.5 L54.0 58.7 L55.1 59.6 L56.2 59.0 L57.2 57.7 L58.3 56.5 L59.5 55.3 L60.7 54.3 L62.1 54.0 L63.7 54.0 L65.3 54.0 L66.2 54.2 L66.8 55.5 L67.3 57.2 L67.8 59.0 L68.4 60.4 L69.1 61.8 L69.7 63.2 L70.4 64.5 L71.2 65.8 L72.0 67.1 L72.9 68.3 L73.9 69.5 L75.1 70.5 L76.4 71.2 L77.9 71.7 L79.3 71.5 L80.7 70.9 L82.1 70.1 L83.3 69.2 L84.3 68.1 L85.3 66.9 L86.4 65.8 L87.5 64.9 L88.9 64.3 L90.3 63.7 L91.8 63.2 L93.2 62.7 L94.6 62.0 L95.9 61.4 L97.3 60.7 L98.6 60.0 L100.0 59.3 L101.3 58.6 L102.7 58.0 L104.0 57.3 L105.3 56.6 L106.7 55.9 L108.0 55.1 L109.4 54.4 L110.7 53.7 L112.1 53.0 L113.4 52.3 L114.5 51.4 L115.5 50.2 L116.4 48.9 L117.2 47.7 L117.9 46.3 L118.6 45.0 L119.3 43.7 L120.0 42.3 L120.7 41.0 L121.4 39.6 L122.2 38.3 L123.1 37.1 L123.9 35.9 L124.8 34.6 L125.7 33.4 L126.7 32.3 L127.9 31.3 L129.3 30.9 L130.8 30.6 L132.3 30.3 L133.8 30.1 L135.3 29.8 L136.8 29.6 L138.3 29.3 L139.8 29.1 L141.2 28.6 L142.6 27.9 L143.9 27.1 L145.2 26.4 L146.6 25.7 L147.9 25.0 L149.2 24.2 L150.5 23.5 L151.8 22.7 L153.1 21.8 L154.3 20.9 L155.5 20.1 L156.7 19.2 L157.9 18.2 L159.1 17.3 L160.3 16.4 L161.5 15.4 L162.6 14.4 L163.8 13.4 L165.0 12.5 L166.3 11.7 L167.6 10.9 L169.0 10.3 L170.4 10.0 L171.9 9.9 L173.4 9.7 L175.0 9.6 L176.5 9.6 L178.0 9.5 L179.5 9.4 L181.0 9.4 L182.5 9.3 L184.0 9.3 L185.6 9.3 L187.1 9.4 L188.6 9.5 L190.1 9.6 L191.6 9.7 L193.1 9.8 L194.6 9.8 L196.1 9.7 L197.6 9.5 L199.1 9.2 L200.6 8.8 L202.0 8.3 L203.4 7.7 L204.8 7.2 L206.2 6.6 L207.6 6.0 L209.0 5.4" stroke="#2a2ab8" stroke-width="1.5" fill="none" stroke-linejoin="round"/>
<path d="M87.6 144.0 L88.5 142.8 L89.5 141.6 L90.5 140.5 L91.4 139.3 L92.4 138.1 L93.4 136.9 L94.3 135.8 L95.3 134.6 L96.3 133.5 L97.3 132.3 L98.3 131.2 L99.3 130.0 L100.3 128.9 L101.3 127.8 L102.3 126.6 L103.4 125.5 L104.4 124.4 L105.5 123.3 L106.5 122.2 L107.6 121.1 L108.6 120.0 L109.6 118.9 L110.6 117.7 L111.6 116.6 L112.5 115.4 L113.4 114.1 L114.2 112.9 L115.1 111.6 L115.9 110.3 L116.6 109.0 L117.2 107.6 L117.8 106.2 L118.4 104.8 L119.0 103.4 L119.6 102.0 L120.2 100.6 L120.8 99.2 L121.4 97.8 L122.0 96.4 L122.6 95.0 L123.2 93.6 L123.8 92.2 L124.4 90.9 L125.0 89.4 L125.6 88.1 L126.2 86.7 L127.0 85.4 L127.7 84.1 L128.5 82.8 L129.4 81.5 L130.2 80.2 L131.1 79.0 L131.9 77.7 L132.8 76.5 L133.6 75.2 L134.4 73.9 L135.3 72.7 L136.1 71.4 L137.0 70.2 L137.8 68.9 L138.7 67.7 L139.6 66.4 L140.4 65.2 L141.3 63.9 L142.2 62.7 L143.1 61.4 L143.9 60.2 L144.8 59.0 L145.7 57.7 L146.6 56.5 L147.4 55.2 L148.3 54.0 L149.2 52.8 L150.1 51.5 L150.9 50.3 L151.8 49.0 L152.7 47.8 L153.6 46.6 L154.4 45.3 L155.3 44.1 L156.2 42.8 L157.0 41.6 L157.9 40.3 L158.8 39.1 L159.6 37.8 L160.5 36.6 L161.4 35.3 L162.2 34.1 L163.1 32.8 L163.9 31.6 L164.7 30.3 L165.6 29.0 L166.4 27.8 L167.3 26.5 L168.2 25.3 L169.1 24.1 L170.0 22.8 L170.9 21.6 L171.7 20.4 L172.6 19.2 L173.6 17.9 L174.5 16.7 L175.4 15.5 L176.3 14.3 L177.2 13.1 L178.1 11.9 L179.1 10.7 L180.0 9.5" stroke="#a00d14" stroke-width="2" stroke-dasharray="4 1.6" fill="none"/>
<path d="M204.5 57.0 L240.7 37.6 L270.0 21.5 L300.0 5.4" stroke="#b8742c" stroke-width="1.6" fill="none"/>
<path d="M50.5 110.0 L51.8 109.3 L53.1 108.5 L54.5 107.7 L55.8 106.9 L57.1 106.2 L58.5 105.8 L60.0 105.5 L61.6 105.2 L63.1 105.1 L64.4 105.0 L65.6 105.5 L66.6 106.7 L67.5 108.1 L68.5 109.5 L69.6 110.7 L70.6 112.0 L71.7 113.3 L72.9 114.2 L74.1 114.5 L75.5 114.2 L77.1 113.8 L78.4 113.2 L79.7 112.3 L80.9 111.3 L82.1 110.4 L83.5 109.9 L84.9 109.4 L86.4 109.1 L87.9 108.8 L89.4 108.7 L90.9 108.6 L92.4 108.6 L93.9 108.5 L95.4 108.4 L96.9 108.2 L98.3 107.9 L99.8 107.5 L101.2 107.1 L102.7 106.5 L104.1 106.0 L105.5 105.4 L106.9 104.8 L108.3 104.3 L109.7 103.7 L111.0 103.0 L112.4 102.4 L113.7 101.7 L115.1 100.9 L116.4 100.2 L117.7 99.5 L119.1 98.8 L120.4 98.1 L121.7 97.4 L123.1 96.6 L124.4 95.9 L125.6 95.1 L126.8 94.2 L127.9 93.1 L129.1 92.1 L130.2 91.2 L131.5 90.4 L132.8 89.8 L134.2 89.2 L135.6 88.7 L137.0 88.1 L138.5 87.7 L139.9 87.2 L141.4 86.7 L142.8 86.2 L144.3 85.7 L145.7 85.2 L147.1 84.6 L148.5 84.0 L149.9 83.5 L151.3 82.9 L152.7 82.3 L154.1 81.7 L155.5 81.2 L156.9 80.6 L158.3 80.1 L159.7 79.6 L161.1 79.1 L162.6 78.7 L164.0 78.3 L165.5 77.9 L166.9 77.5 L168.4 77.2 L169.9 76.8 L171.3 76.4 L172.8 76.0 L174.2 75.5 L175.6 75.1 L177.1 74.6 L178.5 74.1 L179.9 73.6 L181.4 73.2 L182.8 72.6 L184.2 72.1 L185.6 71.6 L187.0 71.1 L188.4 70.6 L189.9 70.1 L191.3 69.5 L192.7 69.0 L194.1 68.4 L195.5 67.9 L196.9 67.3 L198.3 66.7 L199.7 66.2 L201.1 65.6 L202.5 65.1 L203.9 64.5 L205.3 64.0 L206.7 63.5 L208.1 63.0 L209.6 62.5 L211.0 62.0 L212.4 61.5 L213.8 61.0 L215.3 60.6 L216.7 60.1 L218.1 59.6 L219.6 59.1 L221.0 58.7 L222.4 58.2 L223.9 57.7 L225.3 57.3 L226.7 56.8 L228.2 56.3 L229.6 55.9 L231.0 55.4 L232.5 54.9 L233.9 54.4 L235.3 54.0 L236.7 53.5 L238.2 53.0 L239.6 52.5 L241.0 51.9 L242.4 51.4 L243.8 50.9 L245.2 50.3 L246.7 49.8 L248.1 49.3 L249.5 48.8 L250.9 48.2 L252.3 47.7 L253.7 47.3 L255.2 46.8 L256.6 46.3 L258.1 45.9 L259.5 45.5 L261.0 45.1 L262.4 44.8 L263.9 44.5 L265.4 44.1 L266.9 43.8 L268.4 43.5 L269.8 43.2 L271.3 42.8 L272.7 42.4 L274.2 42.0 L275.6 41.4 L276.9 40.8 L278.3 40.1 L279.7 39.5 L281.1 39.0 L282.5 38.5 L283.9 38.0 L285.4 37.6 L286.8 37.1 L288.3 36.7 L289.7 36.3 L291.2 35.9 L292.6 35.5 L294.1 35.2 L295.6 34.7 L297.0 34.3 L298.5 33.9 L300.0 33.5 L301.4 33.2 L302.9 33.0 L304.4 33.0 L305.9 33.0 L307.4 33.1 L308.9 33.1 L310.4 33.2 L311.9 33.2 L313.5 33.2 L315.0 33.1 L316.5 33.1 L318.0 32.9 L319.5 32.8 L321.0 32.7 L322.5 32.5 L324.0 32.3 L325.5 32.1 L327.0 31.9 L328.5 31.6 L330.0 31.4 L331.4 31.2 L332.9 30.9 L334.4 30.7 L335.9 30.4 L337.4 30.2 L338.9 29.9 L340.3 29.6 L341.8 29.2 L343.3 28.9 L344.7 28.5 L346.2 28.1 L347.7 27.7 L349.1 27.3 L350.6 26.9 L352.0 26.5 L353.5 26.1 L355.0 25.8 L356.4 25.5 L357.9 25.3 L359.4 25.1 L360.9 24.9 L362.4 24.7 L363.9 24.6 L365.4 24.4 L366.9 24.3 L368.4 24.1 L369.9 24.0 L371.4 23.8 L372.9 23.5 L374.4 23.3 L375.9 23.0 L377.3 22.8 L378.8 22.5 L380.3 22.2 L381.8 21.9 L383.2 21.6 L384.7 21.2 L386.2 20.9 L387.6 20.5 L389.1 20.1 L390.6 19.8 L392.0 19.4 L393.5 19.0 L394.9 18.5 L396.4 18.1" stroke="#3636cc" stroke-width="1.4" fill="none"/>
<path clip-path="url(#cPink)" d="M50.5 110.0 L51.8 109.3 L53.1 108.5 L54.5 107.7 L55.8 106.9 L57.1 106.2 L58.5 105.8 L60.0 105.5 L61.6 105.2 L63.1 105.1 L64.4 105.0 L65.6 105.5 L66.6 106.7 L67.5 108.1 L68.5 109.5 L69.6 110.7 L70.6 112.0 L71.7 113.3 L72.9 114.2 L74.1 114.5 L75.5 114.2 L77.1 113.8 L78.4 113.2 L79.7 112.3 L80.9 111.3 L82.1 110.4 L83.5 109.9 L84.9 109.4 L86.4 109.1 L87.9 108.8 L89.4 108.7 L90.9 108.6 L92.4 108.6 L93.9 108.5 L95.4 108.4 L96.9 108.2 L98.3 107.9 L99.8 107.5 L101.2 107.1 L102.7 106.5 L104.1 106.0 L105.5 105.4 L106.9 104.8 L108.3 104.3 L109.7 103.7 L111.0 103.0 L112.4 102.4 L113.7 101.7 L115.1 100.9 L116.4 100.2 L117.7 99.5 L119.1 98.8 L120.4 98.1 L121.7 97.4 L123.1 96.6 L124.4 95.9 L125.6 95.1 L126.8 94.2 L127.9 93.1 L129.1 92.1 L130.2 91.2 L131.5 90.4 L132.8 89.8 L134.2 89.2 L135.6 88.7 L137.0 88.1 L138.5 87.7 L139.9 87.2 L141.4 86.7 L142.8 86.2 L144.3 85.7 L145.7 85.2 L147.1 84.6 L148.5 84.0 L149.9 83.5 L151.3 82.9 L152.7 82.3 L154.1 81.7 L155.5 81.2 L156.9 80.6 L158.3 80.1 L159.7 79.6 L161.1 79.1 L162.6 78.7 L164.0 78.3 L165.5 77.9 L166.9 77.5 L168.4 77.2 L169.9 76.8 L171.3 76.4 L172.8 76.0 L174.2 75.5 L175.6 75.1 L177.1 74.6 L178.5 74.1 L179.9 73.6 L181.4 73.2 L182.8 72.6 L184.2 72.1 L185.6 71.6 L187.0 71.1 L188.4 70.6 L189.9 70.1 L191.3 69.5 L192.7 69.0 L194.1 68.4 L195.5 67.9 L196.9 67.3 L198.3 66.7 L199.7 66.2 L201.1 65.6 L202.5 65.1 L203.9 64.5 L205.3 64.0 L206.7 63.5 L208.1 63.0 L209.6 62.5 L211.0 62.0 L212.4 61.5 L213.8 61.0 L215.3 60.6 L216.7 60.1 L218.1 59.6 L219.6 59.1 L221.0 58.7 L222.4 58.2 L223.9 57.7 L225.3 57.3 L226.7 56.8 L228.2 56.3 L229.6 55.9 L231.0 55.4 L232.5 54.9 L233.9 54.4 L235.3 54.0 L236.7 53.5 L238.2 53.0 L239.6 52.5 L241.0 51.9 L242.4 51.4 L243.8 50.9 L245.2 50.3 L246.7 49.8 L248.1 49.3 L249.5 48.8 L250.9 48.2 L252.3 47.7 L253.7 47.3 L255.2 46.8 L256.6 46.3 L258.1 45.9 L259.5 45.5 L261.0 45.1 L262.4 44.8 L263.9 44.5 L265.4 44.1 L266.9 43.8 L268.4 43.5 L269.8 43.2 L271.3 42.8 L272.7 42.4 L274.2 42.0 L275.6 41.4 L276.9 40.8 L278.3 40.1 L279.7 39.5 L281.1 39.0 L282.5 38.5 L283.9 38.0 L285.4 37.6 L286.8 37.1 L288.3 36.7 L289.7 36.3 L291.2 35.9 L292.6 35.5 L294.1 35.2 L295.6 34.7 L297.0 34.3 L298.5 33.9 L300.0 33.5 L301.4 33.2 L302.9 33.0 L304.4 33.0 L305.9 33.0 L307.4 33.1 L308.9 33.1 L310.4 33.2 L311.9 33.2 L313.5 33.2 L315.0 33.1 L316.5 33.1 L318.0 32.9 L319.5 32.8 L321.0 32.7 L322.5 32.5 L324.0 32.3 L325.5 32.1 L327.0 31.9 L328.5 31.6 L330.0 31.4 L331.4 31.2 L332.9 30.9 L334.4 30.7 L335.9 30.4 L337.4 30.2 L338.9 29.9 L340.3 29.6 L341.8 29.2 L343.3 28.9 L344.7 28.5 L346.2 28.1 L347.7 27.7 L349.1 27.3 L350.6 26.9 L352.0 26.5 L353.5 26.1 L355.0 25.8 L356.4 25.5 L357.9 25.3 L359.4 25.1 L360.9 24.9 L362.4 24.7 L363.9 24.6 L365.4 24.4 L366.9 24.3 L368.4 24.1 L369.9 24.0 L371.4 23.8 L372.9 23.5 L374.4 23.3 L375.9 23.0 L377.3 22.8 L378.8 22.5 L380.3 22.2 L381.8 21.9 L383.2 21.6 L384.7 21.2 L386.2 20.9 L387.6 20.5 L389.1 20.1 L390.6 19.8 L392.0 19.4 L393.5 19.0 L394.9 18.5 L396.4 18.1" stroke="#7a70d8" stroke-width="1.5" fill="none"/>
<path d="M87.6 203.3 L88.7 202.3 L89.8 201.2 L90.9 200.2 L91.9 199.1 L92.9 197.9 L93.9 196.8 L94.9 195.7 L95.8 194.5 L96.8 193.3 L97.6 192.1 L98.5 190.8 L99.3 189.5 L100.1 188.3 L100.8 186.9 L101.5 185.6 L102.2 184.3 L102.9 182.9 L103.6 181.6 L104.3 180.3 L105.0 178.9 L105.7 177.6 L106.4 176.2 L107.1 174.9 L107.7 173.5 L108.4 172.2 L109.2 170.9 L109.9 169.6 L110.7 168.3 L111.6 167.0 L112.5 165.8 L113.5 164.7 L114.6 163.7 L115.8 162.9 L117.1 162.2 L118.5 161.4 L119.8 160.7 L121.2 160.0 L122.4 159.1 L123.7 158.3 L124.9 157.4 L126.2 156.5 L127.3 155.6 L128.4 154.6 L129.5 153.5 L130.5 152.4 L131.5 151.2 L132.4 150.0 L133.2 148.8 L134.0 147.5 L134.8 146.2 L135.6 144.9 L136.3 143.6 L137.0 142.2 L137.7 140.9 L138.4 139.6 L139.2 138.3 L140.0 137.0 L140.9 135.8 L141.8 134.6 L142.7 133.4 L143.7 132.3 L144.7 131.1 L145.7 129.9 L146.6 128.8 L147.6 127.7 L148.6 126.5 L149.6 125.4 L150.6 124.2 L151.6 123.1 L152.6 122.0 L153.6 120.8 L154.6 119.7 L155.6 118.6 L156.7 117.5 L157.7 116.5 L158.8 115.4 L159.9 114.4 L161.0 113.3 L162.1 112.3 L163.2 111.3 L164.4 110.3 L165.5 109.3 L166.6 108.3 L167.8 107.3 L168.9 106.4 L170.1 105.4 L171.3 104.5 L172.5 103.5 L173.6 102.6 L174.8 101.7 L176.0 100.7 L177.2 99.8 L178.4 98.9 L179.7 98.0 L180.9 97.2 L182.1 96.3 L183.3 95.4 L184.5 94.5 L185.7 93.5 L186.9 92.6 L188.0 91.6 L189.2 90.7 L190.4 89.7 L191.5 88.7 L192.7 87.8 L193.9 86.8 L195.1 85.9 L196.2 85.0 L197.4 84.1 L198.6 83.2 L199.9 82.3 L201.1 81.4 L202.4 80.6 L203.7 79.8 L205.0 79.1 L206.3 78.3 L207.6 77.6 L208.9 76.9 L210.3 76.2 L211.6 75.4 L212.9 74.7 L214.3 74.0 L215.6 73.2 L216.9 72.5 L218.2 71.7 L219.4 70.9 L220.6 70.0 L221.9 69.1 L223.0 68.2 L224.2 67.3 L225.3 66.3 L226.5 65.3 L227.6 64.3 L228.8 63.3 L229.9 62.3 L231.1 61.3 L232.2 60.4 L233.4 59.4 L234.6 58.5 L235.9 57.7 L237.1 56.8 L238.4 56.0 L239.6 55.1 L240.9 54.3 L242.1 53.4 L243.3 52.6 L244.6 51.7 L245.8 50.8 L247.0 49.9 L248.2 49.0 L249.5 48.2 L250.7 47.3 L252.0 46.5 L253.3 45.7 L254.5 44.9 L255.8 44.1 L257.1 43.4 L258.4 42.6 L259.7 41.8 L261.0 41.1 L262.3 40.3 L263.7 39.6 L265.0 38.8 L266.3 38.1 L267.6 37.4 L269.0 36.7 L270.3 36.0 L271.7 35.4 L273.0 34.7 L274.4 34.0 L275.7 33.3 L277.1 32.6 L278.4 31.8 L279.6 31.1 L280.9 30.3 L282.1 29.4 L283.3 28.5 L284.5 27.6 L285.7 26.6 L286.8 25.6 L287.9 24.6 L289.1 23.6 L290.2 22.6 L291.3 21.6 L292.5 20.6 L293.6 19.6 L294.8 18.7 L296.0 17.8 L297.2 16.9 L298.4 16.0 L299.7 15.1 L300.9 14.2 L302.1 13.3 L303.4 12.5 L304.7 11.6 L306.0 10.8 L307.3 10.0 L308.6 9.3 L309.9 8.6 L311.2 8.0 L312.6 7.4 L314.0 6.8 L315.4 6.3 L316.8 5.8 L318.3 5.4" stroke="#ff8c10" stroke-width="1.4" fill="none"/>
<path d="M87.6 218.4 L89.1 217.8 L90.5 217.2 L91.8 216.4 L93.1 215.7 L94.3 214.8 L95.5 214.0 L96.6 213.0 L97.6 211.9 L98.6 210.7 L99.5 209.5 L100.4 208.3 L101.4 207.0 L102.3 205.8 L103.2 204.6 L104.2 203.4 L105.1 202.2 L106.0 201.0 L106.9 199.8 L107.8 198.5 L108.7 197.3 L109.5 196.1 L110.5 194.9 L111.4 193.7 L112.3 192.5 L113.3 191.3 L114.3 190.2 L115.3 189.1 L116.4 188.1 L117.5 187.0 L118.7 186.0 L119.8 185.0 L121.0 184.0 L122.1 182.9 L123.1 181.9 L124.1 180.7 L125.0 179.6 L125.9 178.4 L126.7 177.1 L127.6 175.8 L128.4 174.5 L129.2 173.2 L130.0 172.0 L130.9 170.7 L131.8 169.5 L132.7 168.3 L133.7 167.1 L134.6 165.9 L135.6 164.7 L136.5 163.5 L137.4 162.3 L138.2 161.1 L139.1 159.8 L139.9 158.6 L140.7 157.3 L141.4 155.9 L142.2 154.6 L142.9 153.3 L143.7 152.0 L144.5 150.7 L145.4 149.5 L146.2 148.2 L147.1 147.0 L147.9 145.7 L148.8 144.5 L149.7 143.3 L150.6 142.1 L151.5 140.9 L152.5 139.7 L153.4 138.5 L154.3 137.3 L155.3 136.1 L156.2 134.9 L157.2 133.7 L158.2 132.6 L159.1 131.4 L160.1 130.3 L161.1 129.2 L162.2 128.0 L163.2 126.9 L164.2 125.8 L165.3 124.8 L166.4 123.7 L167.4 122.6 L168.5 121.6 L169.6 120.5 L170.7 119.5 L171.8 118.4 L172.9 117.4 L174.0 116.4 L175.1 115.3 L176.3 114.3 L177.4 113.3 L178.5 112.3 L179.7 111.3 L180.8 110.3 L181.9 109.3 L183.1 108.3 L184.2 107.3 L185.4 106.3 L186.5 105.3 L187.7 104.4 L188.8 103.4 L190.0 102.4 L191.1 101.4 L192.3 100.4 L193.5 99.5 L194.6 98.5 L195.8 97.5 L196.9 96.6 L198.1 95.6 L199.2 94.6 L200.4 93.6 L201.5 92.6 L202.6 91.5 L203.7 90.5 L204.9 89.5 L206.0 88.5 L207.1 87.4 L208.2 86.4 L209.3 85.3 L210.4 84.2 L211.4 83.1 L212.5 82.0 L213.4 80.9 L214.3 79.7 L215.2 78.5 L216.0 77.2 L216.7 75.9 L217.5 74.6 L218.2 73.2 L218.9 71.9 L219.7 70.6 L220.5 69.3 L221.4 68.1 L222.3 66.9 L223.2 65.7 L224.1 64.5 L225.1 63.3 L226.1 62.1 L227.0 61.0 L228.0 59.8 L229.0 58.7 L230.0 57.5 L231.0 56.3 L231.9 55.2 L232.9 54.0 L233.8 52.8 L234.7 51.6 L235.6 50.3 L236.5 49.1 L237.3 47.8 L238.2 46.6 L239.1 45.4 L240.0 44.2 L241.0 43.0 L241.9 41.8 L242.9 40.7 L243.9 39.6 L245.0 38.5 L246.1 37.4 L247.2 36.3 L248.3 35.2 L249.4 34.2 L250.6 33.1 L251.8 32.1 L253.0 31.2 L254.2 30.2 L255.4 29.4 L256.7 28.6 L257.9 27.9 L259.2 27.3 L260.6 26.8 L262.0 26.3 L263.5 25.8 L264.9 25.4 L266.4 25.0 L268.0 24.7 L269.5 24.3 L271.0 23.9 L272.5 23.5 L274.0 23.1 L275.4 22.7 L276.8 22.1 L278.1 21.6 L279.4 20.9 L280.7 20.1 L281.9 19.3 L283.0 18.3 L284.2 17.3 L285.3 16.3 L286.4 15.2 L287.6 14.1 L288.7 13.1 L289.9 12.1 L291.1 11.2 L292.4 10.3 L293.6 9.5 L294.9 8.6 L296.1 7.8 L297.4 7.0 L298.7 6.2 L300.0 5.4" stroke="#b02030" stroke-width="1.4" fill="none"/>
<g clip-path="url(#cOut)">
<path d="M50.5 110.0 L51.8 109.3 L53.1 108.5 L54.5 107.7 L55.8 106.9 L57.1 106.2 L58.5 105.8 L60.0 105.5 L61.6 105.2 L63.1 105.1 L64.4 105.0 L65.6 105.5 L66.6 106.7 L67.5 108.1 L68.5 109.5 L69.6 110.7 L70.6 112.0 L71.7 113.3 L72.9 114.2 L74.1 114.5 L75.5 114.2 L77.1 113.8 L78.4 113.2 L79.7 112.3 L80.9 111.3 L82.1 110.4 L83.5 109.9 L84.9 109.4 L86.4 109.1 L87.9 108.8 L89.4 108.7 L90.9 108.6 L92.4 108.6 L93.9 108.5 L95.4 108.4 L96.9 108.2 L98.3 107.9 L99.8 107.5 L101.2 107.1 L102.7 106.5 L104.1 106.0 L105.5 105.4 L106.9 104.8 L108.3 104.3 L109.7 103.7 L111.0 103.0 L112.4 102.4 L113.7 101.7 L115.1 100.9 L116.4 100.2 L117.7 99.5 L119.1 98.8 L120.4 98.1 L121.7 97.4 L123.1 96.6 L124.4 95.9 L125.6 95.1 L126.8 94.2 L127.9 93.1 L129.1 92.1 L130.2 91.2 L131.5 90.4 L132.8 89.8 L134.2 89.2 L135.6 88.7 L137.0 88.1 L138.5 87.7 L139.9 87.2 L141.4 86.7 L142.8 86.2 L144.3 85.7 L145.7 85.2 L147.1 84.6 L148.5 84.0 L149.9 83.5 L151.3 82.9 L152.7 82.3 L154.1 81.7 L155.5 81.2 L156.9 80.6 L158.3 80.1 L159.7 79.6 L161.1 79.1 L162.6 78.7 L164.0 78.3 L165.5 77.9 L166.9 77.5 L168.4 77.2 L169.9 76.8 L171.3 76.4 L172.8 76.0 L174.2 75.5 L175.6 75.1 L177.1 74.6 L178.5 74.1 L179.9 73.6 L181.4 73.2 L182.8 72.6 L184.2 72.1 L185.6 71.6 L187.0 71.1 L188.4 70.6 L189.9 70.1 L191.3 69.5 L192.7 69.0 L194.1 68.4 L195.5 67.9 L196.9 67.3 L198.3 66.7 L199.7 66.2 L201.1 65.6 L202.5 65.1 L203.9 64.5 L205.3 64.0 L206.7 63.5 L208.1 63.0 L209.6 62.5 L211.0 62.0 L212.4 61.5 L213.8 61.0 L215.3 60.6 L216.7 60.1 L218.1 59.6 L219.6 59.1 L221.0 58.7 L222.4 58.2 L223.9 57.7 L225.3 57.3 L226.7 56.8 L228.2 56.3 L229.6 55.9 L231.0 55.4 L232.5 54.9 L233.9 54.4 L235.3 54.0 L236.7 53.5 L238.2 53.0 L239.6 52.5 L241.0 51.9 L242.4 51.4 L243.8 50.9 L245.2 50.3 L246.7 49.8 L248.1 49.3 L249.5 48.8 L250.9 48.2 L252.3 47.7 L253.7 47.3 L255.2 46.8 L256.6 46.3 L258.1 45.9 L259.5 45.5 L261.0 45.1 L262.4 44.8 L263.9 44.5 L265.4 44.1 L266.9 43.8 L268.4 43.5 L269.8 43.2 L271.3 42.8 L272.7 42.4 L274.2 42.0 L275.6 41.4 L276.9 40.8 L278.3 40.1 L279.7 39.5 L281.1 39.0 L282.5 38.5 L283.9 38.0 L285.4 37.6 L286.8 37.1 L288.3 36.7 L289.7 36.3 L291.2 35.9 L292.6 35.5 L294.1 35.2 L295.6 34.7 L297.0 34.3 L298.5 33.9 L300.0 33.5 L301.4 33.2 L302.9 33.0 L304.4 33.0 L305.9 33.0 L307.4 33.1 L308.9 33.1 L310.4 33.2 L311.9 33.2 L313.5 33.2 L315.0 33.1 L316.5 33.1 L318.0 32.9 L319.5 32.8 L321.0 32.7 L322.5 32.5 L324.0 32.3 L325.5 32.1 L327.0 31.9 L328.5 31.6 L330.0 31.4 L331.4 31.2 L332.9 30.9 L334.4 30.7 L335.9 30.4 L337.4 30.2 L338.9 29.9 L340.3 29.6 L341.8 29.2 L343.3 28.9 L344.7 28.5 L346.2 28.1 L347.7 27.7 L349.1 27.3 L350.6 26.9 L352.0 26.5 L353.5 26.1 L355.0 25.8 L356.4 25.5 L357.9 25.3 L359.4 25.1 L360.9 24.9 L362.4 24.7 L363.9 24.6 L365.4 24.4 L366.9 24.3 L368.4 24.1 L369.9 24.0 L371.4 23.8 L372.9 23.5 L374.4 23.3 L375.9 23.0 L377.3 22.8 L378.8 22.5 L380.3 22.2 L381.8 21.9 L383.2 21.6 L384.7 21.2 L386.2 20.9 L387.6 20.5 L389.1 20.1 L390.6 19.8 L392.0 19.4 L393.5 19.0 L394.9 18.5 L396.4 18.1" stroke="#1010c0" stroke-width="1.9" fill="none"/>
<path d="M87.6 203.3 L88.7 202.3 L89.8 201.2 L90.9 200.2 L91.9 199.1 L92.9 197.9 L93.9 196.8 L94.9 195.7 L95.8 194.5 L96.8 193.3 L97.6 192.1 L98.5 190.8 L99.3 189.5 L100.1 188.3 L100.8 186.9 L101.5 185.6 L102.2 184.3 L102.9 182.9 L103.6 181.6 L104.3 180.3 L105.0 178.9 L105.7 177.6 L106.4 176.2 L107.1 174.9 L107.7 173.5 L108.4 172.2 L109.2 170.9 L109.9 169.6 L110.7 168.3 L111.6 167.0 L112.5 165.8 L113.5 164.7 L114.6 163.7 L115.8 162.9 L117.1 162.2 L118.5 161.4 L119.8 160.7 L121.2 160.0 L122.4 159.1 L123.7 158.3 L124.9 157.4 L126.2 156.5 L127.3 155.6 L128.4 154.6 L129.5 153.5 L130.5 152.4 L131.5 151.2 L132.4 150.0 L133.2 148.8 L134.0 147.5 L134.8 146.2 L135.6 144.9 L136.3 143.6 L137.0 142.2 L137.7 140.9 L138.4 139.6 L139.2 138.3 L140.0 137.0 L140.9 135.8 L141.8 134.6 L142.7 133.4 L143.7 132.3 L144.7 131.1 L145.7 129.9 L146.6 128.8 L147.6 127.7 L148.6 126.5 L149.6 125.4 L150.6 124.2 L151.6 123.1 L152.6 122.0 L153.6 120.8 L154.6 119.7 L155.6 118.6 L156.7 117.5 L157.7 116.5 L158.8 115.4 L159.9 114.4 L161.0 113.3 L162.1 112.3 L163.2 111.3 L164.4 110.3 L165.5 109.3 L166.6 108.3 L167.8 107.3 L168.9 106.4 L170.1 105.4 L171.3 104.5 L172.5 103.5 L173.6 102.6 L174.8 101.7 L176.0 100.7 L177.2 99.8 L178.4 98.9 L179.7 98.0 L180.9 97.2 L182.1 96.3 L183.3 95.4 L184.5 94.5 L185.7 93.5 L186.9 92.6 L188.0 91.6 L189.2 90.7 L190.4 89.7 L191.5 88.7 L192.7 87.8 L193.9 86.8 L195.1 85.9 L196.2 85.0 L197.4 84.1 L198.6 83.2 L199.9 82.3 L201.1 81.4 L202.4 80.6 L203.7 79.8 L205.0 79.1 L206.3 78.3 L207.6 77.6 L208.9 76.9 L210.3 76.2 L211.6 75.4 L212.9 74.7 L214.3 74.0 L215.6 73.2 L216.9 72.5 L218.2 71.7 L219.4 70.9 L220.6 70.0 L221.9 69.1 L223.0 68.2 L224.2 67.3 L225.3 66.3 L226.5 65.3 L227.6 64.3 L228.8 63.3 L229.9 62.3 L231.1 61.3 L232.2 60.4 L233.4 59.4 L234.6 58.5 L235.9 57.7 L237.1 56.8 L238.4 56.0 L239.6 55.1 L240.9 54.3 L242.1 53.4 L243.3 52.6 L244.6 51.7 L245.8 50.8 L247.0 49.9 L248.2 49.0 L249.5 48.2 L250.7 47.3 L252.0 46.5 L253.3 45.7 L254.5 44.9 L255.8 44.1 L257.1 43.4 L258.4 42.6 L259.7 41.8 L261.0 41.1 L262.3 40.3 L263.7 39.6 L265.0 38.8 L266.3 38.1 L267.6 37.4 L269.0 36.7 L270.3 36.0 L271.7 35.4 L273.0 34.7 L274.4 34.0 L275.7 33.3 L277.1 32.6 L278.4 31.8 L279.6 31.1 L280.9 30.3 L282.1 29.4 L283.3 28.5 L284.5 27.6 L285.7 26.6 L286.8 25.6 L287.9 24.6 L289.1 23.6 L290.2 22.6 L291.3 21.6 L292.5 20.6 L293.6 19.6 L294.8 18.7 L296.0 17.8 L297.2 16.9 L298.4 16.0 L299.7 15.1 L300.9 14.2 L302.1 13.3 L303.4 12.5 L304.7 11.6 L306.0 10.8 L307.3 10.0 L308.6 9.3 L309.9 8.6 L311.2 8.0 L312.6 7.4 L314.0 6.8 L315.4 6.3 L316.8 5.8 L318.3 5.4" stroke="#ff8c10" stroke-width="1.9" fill="none"/>
<path d="M87.6 218.4 L89.1 217.8 L90.5 217.2 L91.8 216.4 L93.1 215.7 L94.3 214.8 L95.5 214.0 L96.6 213.0 L97.6 211.9 L98.6 210.7 L99.5 209.5 L100.4 208.3 L101.4 207.0 L102.3 205.8 L103.2 204.6 L104.2 203.4 L105.1 202.2 L106.0 201.0 L106.9 199.8 L107.8 198.5 L108.7 197.3 L109.5 196.1 L110.5 194.9 L111.4 193.7 L112.3 192.5 L113.3 191.3 L114.3 190.2 L115.3 189.1 L116.4 188.1 L117.5 187.0 L118.7 186.0 L119.8 185.0 L121.0 184.0 L122.1 182.9 L123.1 181.9 L124.1 180.7 L125.0 179.6 L125.9 178.4 L126.7 177.1 L127.6 175.8 L128.4 174.5 L129.2 173.2 L130.0 172.0 L130.9 170.7 L131.8 169.5 L132.7 168.3 L133.7 167.1 L134.6 165.9 L135.6 164.7 L136.5 163.5 L137.4 162.3 L138.2 161.1 L139.1 159.8 L139.9 158.6 L140.7 157.3 L141.4 155.9 L142.2 154.6 L142.9 153.3 L143.7 152.0 L144.5 150.7 L145.4 149.5 L146.2 148.2 L147.1 147.0 L147.9 145.7 L148.8 144.5 L149.7 143.3 L150.6 142.1 L151.5 140.9 L152.5 139.7 L153.4 138.5 L154.3 137.3 L155.3 136.1 L156.2 134.9 L157.2 133.7 L158.2 132.6 L159.1 131.4 L160.1 130.3 L161.1 129.2 L162.2 128.0 L163.2 126.9 L164.2 125.8 L165.3 124.8 L166.4 123.7 L167.4 122.6 L168.5 121.6 L169.6 120.5 L170.7 119.5 L171.8 118.4 L172.9 117.4 L174.0 116.4 L175.1 115.3 L176.3 114.3 L177.4 113.3 L178.5 112.3 L179.7 111.3 L180.8 110.3 L181.9 109.3 L183.1 108.3 L184.2 107.3 L185.4 106.3 L186.5 105.3 L187.7 104.4 L188.8 103.4 L190.0 102.4 L191.1 101.4 L192.3 100.4 L193.5 99.5 L194.6 98.5 L195.8 97.5 L196.9 96.6 L198.1 95.6 L199.2 94.6 L200.4 93.6 L201.5 92.6 L202.6 91.5 L203.7 90.5 L204.9 89.5 L206.0 88.5 L207.1 87.4 L208.2 86.4 L209.3 85.3 L210.4 84.2 L211.4 83.1 L212.5 82.0 L213.4 80.9 L214.3 79.7 L215.2 78.5 L216.0 77.2 L216.7 75.9 L217.5 74.6 L218.2 73.2 L218.9 71.9 L219.7 70.6 L220.5 69.3 L221.4 68.1 L222.3 66.9 L223.2 65.7 L224.1 64.5 L225.1 63.3 L226.1 62.1 L227.0 61.0 L228.0 59.8 L229.0 58.7 L230.0 57.5 L231.0 56.3 L231.9 55.2 L232.9 54.0 L233.8 52.8 L234.7 51.6 L235.6 50.3 L236.5 49.1 L237.3 47.8 L238.2 46.6 L239.1 45.4 L240.0 44.2 L241.0 43.0 L241.9 41.8 L242.9 40.7 L243.9 39.6 L245.0 38.5 L246.1 37.4 L247.2 36.3 L248.3 35.2 L249.4 34.2 L250.6 33.1 L251.8 32.1 L253.0 31.2 L254.2 30.2 L255.4 29.4 L256.7 28.6 L257.9 27.9 L259.2 27.3 L260.6 26.8 L262.0 26.3 L263.5 25.8 L264.9 25.4 L266.4 25.0 L268.0 24.7 L269.5 24.3 L271.0 23.9 L272.5 23.5 L274.0 23.1 L275.4 22.7 L276.8 22.1 L278.1 21.6 L279.4 20.9 L280.7 20.1 L281.9 19.3 L283.0 18.3 L284.2 17.3 L285.3 16.3 L286.4 15.2 L287.6 14.1 L288.7 13.1 L289.9 12.1 L291.1 11.2 L292.4 10.3 L293.6 9.5 L294.9 8.6 L296.1 7.8 L297.4 7.0 L298.7 6.2 L300.0 5.4" stroke="#a00d14" stroke-width="1.9" fill="none"/>
</g>
<path d="M51.6 24.0 L52.3 25.3 L53.0 26.7 L53.7 28.0 L54.5 29.3 L55.3 30.6 L56.1 31.9 L56.9 33.1 L57.8 34.3 L58.7 35.5 L59.6 36.7 L60.5 37.9 L61.5 39.1 L62.4 40.2 L63.4 41.4 L64.4 42.5 L65.4 43.7 L66.4 44.8 L67.4 46.0 L68.4 47.1 L69.4 48.3 L70.3 49.4 L71.3 50.5 L72.3 51.7 L73.3 52.9 L74.2 54.0 L75.2 55.2 L76.2 56.3 L77.2 57.4 L78.2 58.5 L79.3 59.6 L80.3 60.7 L81.4 61.8 L82.4 62.8 L83.5 63.9 L84.6 64.9 L85.7 65.9 L86.9 66.9 L88.0 68.0 L89.1 69.0 L90.3 70.0 L91.5 70.9 L92.7 71.9 L93.9 72.8 L95.1 73.7 L96.3 74.6 L97.5 75.4 L98.8 76.2 L100.0 77.0 L101.3 77.8 L102.6 78.5 L103.9 79.1 L105.3 79.8 L106.6 80.4 L108.0 81.1 L109.3 81.7 L110.7 82.3 L112.1 82.8 L113.5 83.4 L115.0 84.0 L116.4 84.5 L117.8 85.1 L119.2 85.6 L120.6 86.2 L122.0 86.8 L123.4 87.3 L124.9 87.9 L126.2 88.5 L127.6 89.1 L129.0 89.8 L130.4 90.4 L131.7 91.1 L133.0 91.8 L134.3 92.6 L135.7 93.3 L137.0 94.1 L138.3 94.9 L139.6 95.6 L140.9 96.4 L142.2 97.2 L143.5 97.9 L144.8 98.6 L146.2 99.2 L147.5 99.8 L148.9 100.4 L150.3 101.0 L151.7 101.5 L153.1 102.0 L154.6 102.5 L156.0 102.9 L157.4 103.4 L158.9 103.9 L160.3 104.3 L161.8 104.8 L163.2 105.2 L164.7 105.6 L166.1 106.1 L167.5 106.6 L169.0 107.1 L170.4 107.5 L171.8 108.0 L173.2 108.5 L174.7 109.0 L176.1 109.5 L177.5 109.9 L179.0 110.4 L180.4 110.9 L181.8 111.4 L183.3 111.8 L184.7 112.3 L186.1 112.7 L187.6 113.2 L189.0 113.6 L190.5 114.0 L191.9 114.4 L193.4 114.9 L194.8 115.3 L196.2 115.7 L197.7 116.1 L199.1 116.5 L200.6 116.9 L202.1 117.3 L203.5 117.7 L205.0 118.1 L206.4 118.5 L207.9 118.9 L209.3 119.3 L210.8 119.7 L212.2 120.1 L213.7 120.5 L215.1 120.9 L216.6 121.3 L218.1 121.7 L219.5 122.1 L221.0 122.5 L222.4 122.9 L223.9 123.3 L225.3 123.6 L226.8 124.0 L228.2 124.4 L229.7 124.8 L231.2 125.2 L232.6 125.6 L234.1 125.9 L235.5 126.3 L237.0 126.7 L238.5 127.0 L239.9 127.4 L241.4 127.7 L242.9 128.1 L244.3 128.4 L245.8 128.8 L247.3 129.1 L248.7 129.4 L250.2 129.7 L251.7 130.1 L253.2 130.4 L254.6 130.7 L256.1 131.0 L257.6 131.3 L259.1 131.6 L260.5 131.9 L262.0 132.2 L263.5 132.4 L265.0 132.7 L266.4 133.0 L267.9 133.3 L269.4 133.6 L270.9 133.9 L272.4 134.1 L273.9 134.4 L275.3 134.7 L276.8 134.9 L278.3 135.2 L279.8 135.5 L281.3 135.7 L282.8 136.0 L284.2 136.2 L285.7 136.5 L287.2 136.8 L288.7 137.0 L290.2 137.3 L291.7 137.5 L293.2 137.8 L294.7 138.0 L296.1 138.3 L297.6 138.5 L299.1 138.8 L300.6 139.0 L302.1 139.2 L303.6 139.5 L305.1 139.7 L306.6 140.0 L308.0 140.2 L309.5 140.5 L311.0 140.7 L312.5 140.9 L314.0 141.2 L315.5 141.4 L317.0 141.7 L318.5 141.9 L319.9 142.1 L321.4 142.3 L322.9 142.6 L324.4 142.8 L325.9 143.0 L327.4 143.3 L328.9 143.5 L330.4 143.7 L331.9 143.9 L333.4 144.1 L334.8 144.4 L336.3 144.6 L337.8 144.8 L339.3 145.0 L340.8 145.2 L342.3 145.4 L343.8 145.7 L345.3 145.9 L346.8 146.1 L348.3 146.3 L349.8 146.5 L351.3 146.7 L352.7 147.0 L354.2 147.2 L355.7 147.4 L357.2 147.6 L358.7 147.8 L360.2 148.0 L361.7 148.2 L363.2 148.5 L364.7 148.7 L366.2 148.9 L367.7 149.1 L369.2 149.3 L370.6 149.5 L372.1 149.7 L373.6 150.0 L375.1 150.2 L376.6 150.4 L378.1 150.6 L379.6 150.8 L381.1 151.0 L382.6 151.2 L384.1 151.4 L385.6 151.6 L387.1 151.8 L388.6 152.1 L390.0 152.3 L391.5 152.5 L393.0 152.7 L394.5 152.9 L396.0 153.1 L397.5 153.3 L399.0 153.5" stroke="#808080" stroke-width="1.4" stroke-dasharray="4.6 2" fill="none"/>
<path clip-path="url(#cFills)" d="M51.6 24.0 L52.3 25.3 L53.0 26.7 L53.7 28.0 L54.5 29.3 L55.3 30.6 L56.1 31.9 L56.9 33.1 L57.8 34.3 L58.7 35.5 L59.6 36.7 L60.5 37.9 L61.5 39.1 L62.4 40.2 L63.4 41.4 L64.4 42.5 L65.4 43.7 L66.4 44.8 L67.4 46.0 L68.4 47.1 L69.4 48.3 L70.3 49.4 L71.3 50.5 L72.3 51.7 L73.3 52.9 L74.2 54.0 L75.2 55.2 L76.2 56.3 L77.2 57.4 L78.2 58.5 L79.3 59.6 L80.3 60.7 L81.4 61.8 L82.4 62.8 L83.5 63.9 L84.6 64.9 L85.7 65.9 L86.9 66.9 L88.0 68.0 L89.1 69.0 L90.3 70.0 L91.5 70.9 L92.7 71.9 L93.9 72.8 L95.1 73.7 L96.3 74.6 L97.5 75.4 L98.8 76.2 L100.0 77.0 L101.3 77.8 L102.6 78.5 L103.9 79.1 L105.3 79.8 L106.6 80.4 L108.0 81.1 L109.3 81.7 L110.7 82.3 L112.1 82.8 L113.5 83.4 L115.0 84.0 L116.4 84.5 L117.8 85.1 L119.2 85.6 L120.6 86.2 L122.0 86.8 L123.4 87.3 L124.9 87.9 L126.2 88.5 L127.6 89.1 L129.0 89.8 L130.4 90.4 L131.7 91.1 L133.0 91.8 L134.3 92.6 L135.7 93.3 L137.0 94.1 L138.3 94.9 L139.6 95.6 L140.9 96.4 L142.2 97.2 L143.5 97.9 L144.8 98.6 L146.2 99.2 L147.5 99.8 L148.9 100.4 L150.3 101.0 L151.7 101.5 L153.1 102.0 L154.6 102.5 L156.0 102.9 L157.4 103.4 L158.9 103.9 L160.3 104.3 L161.8 104.8 L163.2 105.2 L164.7 105.6 L166.1 106.1 L167.5 106.6 L169.0 107.1 L170.4 107.5 L171.8 108.0 L173.2 108.5 L174.7 109.0 L176.1 109.5 L177.5 109.9 L179.0 110.4 L180.4 110.9 L181.8 111.4 L183.3 111.8 L184.7 112.3 L186.1 112.7 L187.6 113.2 L189.0 113.6 L190.5 114.0 L191.9 114.4 L193.4 114.9 L194.8 115.3 L196.2 115.7 L197.7 116.1 L199.1 116.5 L200.6 116.9 L202.1 117.3 L203.5 117.7 L205.0 118.1 L206.4 118.5 L207.9 118.9 L209.3 119.3 L210.8 119.7 L212.2 120.1 L213.7 120.5 L215.1 120.9 L216.6 121.3 L218.1 121.7 L219.5 122.1 L221.0 122.5 L222.4 122.9 L223.9 123.3 L225.3 123.6 L226.8 124.0 L228.2 124.4 L229.7 124.8 L231.2 125.2 L232.6 125.6 L234.1 125.9 L235.5 126.3 L237.0 126.7 L238.5 127.0 L239.9 127.4 L241.4 127.7 L242.9 128.1 L244.3 128.4 L245.8 128.8 L247.3 129.1 L248.7 129.4 L250.2 129.7 L251.7 130.1 L253.2 130.4 L254.6 130.7 L256.1 131.0 L257.6 131.3 L259.1 131.6 L260.5 131.9 L262.0 132.2 L263.5 132.4 L265.0 132.7 L266.4 133.0 L267.9 133.3 L269.4 133.6 L270.9 133.9 L272.4 134.1 L273.9 134.4 L275.3 134.7 L276.8 134.9 L278.3 135.2 L279.8 135.5 L281.3 135.7 L282.8 136.0 L284.2 136.2 L285.7 136.5 L287.2 136.8 L288.7 137.0 L290.2 137.3 L291.7 137.5 L293.2 137.8 L294.7 138.0 L296.1 138.3 L297.6 138.5 L299.1 138.8 L300.6 139.0 L302.1 139.2 L303.6 139.5 L305.1 139.7 L306.6 140.0 L308.0 140.2 L309.5 140.5 L311.0 140.7 L312.5 140.9 L314.0 141.2 L315.5 141.4 L317.0 141.7 L318.5 141.9 L319.9 142.1 L321.4 142.3 L322.9 142.6 L324.4 142.8 L325.9 143.0 L327.4 143.3 L328.9 143.5 L330.4 143.7 L331.9 143.9 L333.4 144.1 L334.8 144.4 L336.3 144.6 L337.8 144.8 L339.3 145.0 L340.8 145.2 L342.3 145.4 L343.8 145.7 L345.3 145.9 L346.8 146.1 L348.3 146.3 L349.8 146.5 L351.3 146.7 L352.7 147.0 L354.2 147.2 L355.7 147.4 L357.2 147.6 L358.7 147.8 L360.2 148.0 L361.7 148.2 L363.2 148.5 L364.7 148.7 L366.2 148.9 L367.7 149.1 L369.2 149.3 L370.6 149.5 L372.1 149.7 L373.6 150.0 L375.1 150.2 L376.6 150.4 L378.1 150.6 L379.6 150.8 L381.1 151.0 L382.6 151.2 L384.1 151.4 L385.6 151.6 L387.1 151.8 L388.6 152.1 L390.0 152.3 L391.5 152.5 L393.0 152.7 L394.5 152.9 L396.0 153.1 L397.5 153.3 L399.0 153.5" stroke="#787c86" stroke-width="1.6" stroke-dasharray="4.6 1.8" fill="none"/>
<path d="M204.3 164.2 L205.6 163.5 L207.0 162.7 L208.3 162.0 L209.6 161.3 L211.0 160.6 L212.3 159.8 L213.6 159.1 L215.0 158.4 L216.3 157.6 L217.6 156.9 L219.0 156.2 L220.3 155.5 L221.7 154.7 L223.0 154.0 L224.3 153.3 L225.7 152.6 L227.0 151.8 L228.3 151.1 L229.7 150.4 L231.0 149.7 L232.3 148.9 L233.7 148.2 L235.0 147.5 L236.4 146.8 L237.7 146.0 L239.0 145.3 L240.4 144.6 L241.7 143.9 L243.0 143.1 L244.4 142.4 L245.7 141.7 L247.1 141.0 L248.4 140.2 L249.7 139.5 L251.1 138.8 L252.4 138.1 L253.8 137.4 L255.1 136.6 L256.4 135.9 L257.8 135.2 L259.1 134.5 L260.4 133.8 L261.8 133.0 L263.1 132.3 L264.5 131.6 L265.8 130.9 L267.1 130.2 L268.5 129.4 L269.8 128.7 L271.2 128.0 L272.5 127.3 L273.9 126.6 L275.2 125.9 L276.5 125.1 L277.9 124.4 L279.2 123.7 L280.6 123.0 L281.9 122.3 L283.2 121.6 L284.6 120.9 L285.9 120.1 L287.3 119.4 L288.6 118.7 L290.0 118.0 L291.3 117.3 L292.6 116.6 L294.0 115.9 L295.3 115.1 L296.7 114.4 L298.0 113.7 L299.4 113.0 L300.7 112.3 L302.0 111.6 L303.4 110.9 L304.7 110.1 L306.1 109.4 L307.4 108.7 L308.8 108.0 L310.1 107.3 L311.4 106.6 L312.8 105.8 L314.1 105.1 L315.5 104.4 L316.8 103.7 L318.1 103.0 L319.5 102.2 L320.8 101.5 L322.2 100.8 L323.5 100.1 L324.8 99.4 L326.2 98.6 L327.5 97.9 L328.9 97.2 L330.2 96.5 L331.5 95.8 L332.9 95.1 L334.2 94.4 L335.6 93.6 L336.9 92.9 L338.3 92.2 L339.6 91.5 L341.0 90.8 L342.3 90.1 L343.6 89.4 L345.0 88.7 L346.3 88.0 L347.7 87.3 L349.0 86.6 L350.4 85.9 L351.7 85.2 L353.1 84.5 L354.4 83.8 L355.8 83.1 L357.2 82.4 L358.5 81.7 L359.9 81.0 L361.2 80.3 L362.6 79.6 L363.9 79.0 L365.3 78.3 L366.6 77.6 L368.0 76.9 L369.3 76.2 L370.7 75.5 L372.1 74.8 L373.4 74.1 L374.8 73.4 L376.1 72.8 L377.5 72.1 L378.8 71.4 L380.2 70.7 L381.6 70.0 L382.9 69.3 L384.3 68.7 L385.6 68.0 L387.0 67.3 L388.4 66.6 L389.7 65.9 L391.1 65.3 L392.4 64.6 L393.8 63.9 L395.2 63.2 L396.5 62.6 L397.9 61.9" stroke="#bd620f" stroke-width="1.8" fill="none"/>
<path d="M50.9 223.4h7 M404.2 223.4h-7 M50.9 206.5h3 M404.2 206.5h-3 M50.9 196.7h3 M404.2 196.7h-3 M50.9 189.7h3 M404.2 189.7h-3 M50.9 184.3h3 M404.2 184.3h-3 M50.9 179.8h3 M404.2 179.8h-3 M50.9 176.1h3 M404.2 176.1h-3 M50.9 172.8h3 M404.2 172.8h-3 M50.9 170.0h3 M404.2 170.0h-3 M50.9 167.4h7 M404.2 167.4h-7 M50.9 150.5h3 M404.2 150.5h-3 M50.9 140.7h3 M404.2 140.7h-3 M50.9 133.7h3 M404.2 133.7h-3 M50.9 128.3h3 M404.2 128.3h-3 M50.9 123.8h3 M404.2 123.8h-3 M50.9 120.1h3 M404.2 120.1h-3 M50.9 116.8h3 M404.2 116.8h-3 M50.9 114.0h3 M404.2 114.0h-3 M50.9 111.4h7 M404.2 111.4h-7 M50.9 94.5h3 M404.2 94.5h-3 M50.9 84.7h3 M404.2 84.7h-3 M50.9 77.7h3 M404.2 77.7h-3 M50.9 72.3h3 M404.2 72.3h-3 M50.9 67.8h3 M404.2 67.8h-3 M50.9 64.1h3 M404.2 64.1h-3 M50.9 60.8h3 M404.2 60.8h-3 M50.9 58.0h3 M404.2 58.0h-3 M50.9 55.4h7 M404.2 55.4h-7 M50.9 38.5h3 M404.2 38.5h-3 M50.9 28.7h3 M404.2 28.7h-3 M50.9 21.7h3 M404.2 21.7h-3 M50.9 16.3h3 M404.2 16.3h-3 M50.9 11.8h3 M404.2 11.8h-3 M50.9 8.1h3 M404.2 8.1h-3" stroke="#a0a0a0" stroke-width="1.1" fill="none"/>
<path d="M50.5 223.5v-1.7 M50.5 5.9v1.02 M63.1 223.5v-1.7 M63.1 5.9v1.02 M75.8 223.5v-1.7 M75.8 5.9v1.02 M88.4 223.5v-2.4 M88.4 5.9v1.44 M101.1 223.5v-1.7 M101.1 5.9v1.02 M113.7 223.5v-1.7 M113.7 5.9v1.02 M126.4 223.5v-1.7 M126.4 5.9v1.02 M139.0 223.5v-1.7 M139.0 5.9v1.02 M151.6 223.5v-2.4 M151.6 5.9v1.44 M164.3 223.5v-1.7 M164.3 5.9v1.02 M176.9 223.5v-1.7 M176.9 5.9v1.02 M189.6 223.5v-1.7 M189.6 5.9v1.02 M202.2 223.5v-1.7 M202.2 5.9v1.02 M214.9 223.5v-2.4 M214.9 5.9v1.44 M227.5 223.5v-1.7 M227.5 5.9v1.02 M240.1 223.5v-1.7 M240.1 5.9v1.02 M252.8 223.5v-1.7 M252.8 5.9v1.02 M265.4 223.5v-1.7 M265.4 5.9v1.02 M278.1 223.5v-2.4 M278.1 5.9v1.44 M290.7 223.5v-1.7 M290.7 5.9v1.02 M303.4 223.5v-1.7 M303.4 5.9v1.02 M316.0 223.5v-1.7 M316.0 5.9v1.02 M328.6 223.5v-1.7 M328.6 5.9v1.02 M341.3 223.5v-2.4 M341.3 5.9v1.44 M353.9 223.5v-1.7 M353.9 5.9v1.02 M366.6 223.5v-1.7 M366.6 5.9v1.02 M379.2 223.5v-1.7 M379.2 5.9v1.02 M391.9 223.5v-1.7 M391.9 5.9v1.02 M404.5 223.5v-2.4 M404.5 5.9v1.44" stroke="#8a8a8a" stroke-width="1" fill="none"/>
<text x="88.4" y="238.6" font-family="Liberation Sans, sans-serif" font-size="14" fill="#747474" text-anchor="middle">0.5</text>
<text x="151.6" y="238.6" font-family="Liberation Sans, sans-serif" font-size="14" fill="#747474" text-anchor="middle">1.0</text>
<text x="214.9" y="238.6" font-family="Liberation Sans, sans-serif" font-size="14" fill="#747474" text-anchor="middle">1.5</text>
<text x="278.1" y="238.6" font-family="Liberation Sans, sans-serif" font-size="14" fill="#747474" text-anchor="middle">2.0</text>
<text x="341.3" y="238.6" font-family="Liberation Sans, sans-serif" font-size="14" fill="#747474" text-anchor="middle">2.5</text>
<text x="404.5" y="238.6" font-family="Liberation Sans, sans-serif" font-size="14" fill="#747474" text-anchor="middle">3.0</text>
<text x="22.2" y="60.0" font-family="Liberation Sans, sans-serif" font-size="14" fill="#747474">10<tspan dy="-5.6" font-size="9.8" dx="0.6">−1</tspan></text>
<text x="22.2" y="116.0" font-family="Liberation Sans, sans-serif" font-size="14" fill="#747474">10<tspan dy="-5.6" font-size="9.8" dx="0.6">−2</tspan></text>
<text x="22.2" y="172.0" font-family="Liberation Sans, sans-serif" font-size="14" fill="#747474">10<tspan dy="-5.6" font-size="9.8" dx="0.6">−3</tspan></text>
<text x="22.2" y="228.0" font-family="Liberation Sans, sans-serif" font-size="14" fill="#747474">10<tspan dy="-5.6" font-size="9.8" dx="0.6">−4</tspan></text>
<text transform="translate(199.6 260.1) scale(1.34 1)" font-family="Liberation Sans, sans-serif" font-size="12.4" font-style="italic" fill="#747474">m</text>
<text x="214.6" y="262.4" font-family="Liberation Sans, sans-serif" font-size="9.4" font-style="italic" fill="#747474">ϕ</text>
<text x="222.2" y="260.1" font-family="Liberation Sans, sans-serif" font-size="14" fill="#747474" textLength="33.6" lengthAdjust="spacingAndGlyphs">[TeV]</text>
<text transform="translate(13.7 131.2) rotate(-90)" font-family="Liberation Sans, sans-serif" font-size="14.3" fill="#747474">sinγ<tspan dy="-8.4" dx="0.4" font-size="8">2</tspan></text>
<text x="327" y="211.5" font-family="Liberation Sans, sans-serif" font-size="12.6" fill="#a8a8a8" textLength="66.5" lengthAdjust="spacingAndGlyphs"><tspan font-style="italic">m</tspan><tspan font-size="8.5" dy="2.4" font-style="italic">X</tspan><tspan dy="-2.4">=50 GeV</tspan></text>
<text x="68.2" y="19" font-family="Liberation Sans, sans-serif" font-size="8.6" fill="#2424b0" textLength="50.5" lengthAdjust="spacingAndGlyphs">visible 13 TeV</text>
<text x="81.2" y="32" font-family="Liberation Sans, sans-serif" font-size="8.6" fill="#2424b0">36 fb<tspan dy="-3.4" font-size="5.6">−1</tspan></text>
<text transform="translate(321.5 30.2) rotate(-10.5)" font-family="Liberation Sans, sans-serif" font-size="8.6" font-weight="normal" fill="#2020c0" textLength="42" lengthAdjust="spacingAndGlyphs" stroke="#2020c0" stroke-width="0.4">visible @HL</text>
<text transform="translate(252.4 29) rotate(-27)" font-family="Liberation Sans, sans-serif" font-size="8.8" font-weight="normal" fill="#be782e" textLength="30" lengthAdjust="spacingAndGlyphs" >BP 1mm</text>
<text transform="translate(294.3 129.3) rotate(-30.5)" font-family="Liberation Sans, sans-serif" font-size="8" font-weight="bold" fill="#bd620f" textLength="52" lengthAdjust="spacingAndGlyphs" >BP:1mm @HL</text>
<text transform="translate(85.6 90.4) rotate(-58.5)" font-family="Liberation Sans, sans-serif" font-size="8.2" font-weight="normal" fill="#ff8c10" textLength="31.5" lengthAdjust="spacingAndGlyphs" >μ-RoI: 1m</text>
<text transform="translate(116 78.5) rotate(-48)" font-family="Liberation Sans, sans-serif" font-size="8.4" font-weight="normal" fill="#b83038" textLength="44" lengthAdjust="spacingAndGlyphs" >IT<tspan font-size="6" dy="1.5"> 13 </tspan><tspan dy="-1.5">TeV: 1cm</tspan></text>
<text transform="translate(140.2 78.1) rotate(-54.2)" font-family="Liberation Sans, sans-serif" font-size="8" font-weight="bold" fill="#a00d14" textLength="41.6" lengthAdjust="spacingAndGlyphs" >IT<tspan font-size="6" dy="1.5"> 14 </tspan><tspan dy="-1.5">TeV:1cm</tspan></text>
<text transform="translate(121.5 153) rotate(-50)" font-family="Liberation Sans, sans-serif" font-size="8" font-weight="bold" fill="#ff8c10" textLength="55.5" lengthAdjust="spacingAndGlyphs" >μ-RoI:1m @HL</text>
<text transform="translate(140.8 175) rotate(-54)" font-family="Liberation Sans, sans-serif" font-size="7.8" font-weight="bold" fill="#a00d14" textLength="63.5" lengthAdjust="spacingAndGlyphs" >IT<tspan font-size="6" dy="1.5"> 14 </tspan><tspan dy="-1.5">TeV:1cm @HL</tspan></text>
<text transform="translate(337.2 158.6) rotate(0)" font-family="Liberation Sans, sans-serif" font-size="7.4" font-weight="normal" fill="#8c8c8c" textLength="33.5" lengthAdjust="spacingAndGlyphs" >γ=m<tspan font-size="5" dy="1.5">Z</tspan><tspan dy="-1.5">/m</tspan><tspan font-size="5" dy="1.5">ϕ</tspan></text>
<text transform="translate(156 200) rotate(34)" font-family="Liberation Sans, sans-serif" font-size="7.4" font-weight="normal" fill="#8c8c8c" textLength="33.5" lengthAdjust="spacingAndGlyphs" >γ=m<tspan font-size="5" dy="1.5">Z</tspan><tspan dy="-1.5">/m</tspan><tspan font-size="5" dy="1.5">ϕ</tspan></text>
</g>
</svg>
</body></html>
